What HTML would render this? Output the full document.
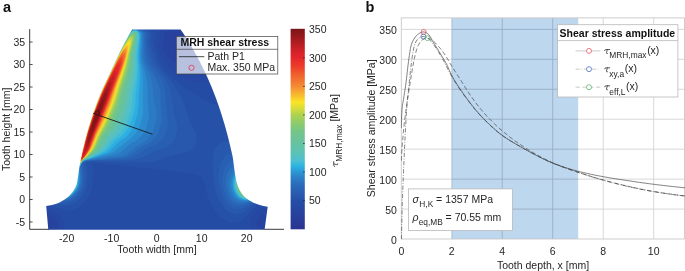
<!DOCTYPE html>
<html><head><meta charset="utf-8"><title>Figure</title>
<style>html,body{margin:0;padding:0;background:#fff}body{width:685px;height:271px;overflow:hidden;font-family:"Liberation Sans",sans-serif}svg{display:block;will-change:transform;transform:translateZ(0)}</style>
</head><body>
<svg width="685" height="271" viewBox="0 0 685 271" font-family="'Liberation Sans', sans-serif">
<rect width="685" height="271" fill="#fff"/>
<rect x="451.78" y="17.9" width="126.4" height="221.1" fill="#bdd7ee"/>
<path d="M451.78,17.9 V239.0" stroke="#d4d4d4" stroke-width="0.9"/>
<path d="M502.26,17.9 V239.0" stroke="#d4d4d4" stroke-width="0.9"/>
<path d="M552.74,17.9 V239.0" stroke="#d4d4d4" stroke-width="0.9"/>
<path d="M603.22,17.9 V239.0" stroke="#d4d4d4" stroke-width="0.9"/>
<path d="M653.7,17.9 V239.0" stroke="#d4d4d4" stroke-width="0.9"/>
<path d="M401.3,209.06 H684.5" stroke="#d4d4d4" stroke-width="0.9"/>
<path d="M401.3,179.11 H684.5" stroke="#d4d4d4" stroke-width="0.9"/>
<path d="M401.3,149.17 H684.5" stroke="#d4d4d4" stroke-width="0.9"/>
<path d="M401.3,119.22 H684.5" stroke="#d4d4d4" stroke-width="0.9"/>
<path d="M401.3,89.28 H684.5" stroke="#d4d4d4" stroke-width="0.9"/>
<path d="M401.3,59.33 H684.5" stroke="#d4d4d4" stroke-width="0.9"/>
<path d="M401.3,29.38 H684.5" stroke="#d4d4d4" stroke-width="0.9"/>
<clipPath id="band"><rect x="451.78" y="17.9" width="126.4" height="221.1"/></clipPath>
<g clip-path="url(#band)">
<path d="M451.78,17.9 V239.0" stroke="#8fb0d0" stroke-width="0.9"/>
<path d="M502.26,17.9 V239.0" stroke="#8fb0d0" stroke-width="0.9"/>
<path d="M552.74,17.9 V239.0" stroke="#8fb0d0" stroke-width="0.9"/>
<path d="M401.3,209.06 H684.5" stroke="#8fb0d0" stroke-width="0.9"/>
<path d="M401.3,179.11 H684.5" stroke="#8fb0d0" stroke-width="0.9"/>
<path d="M401.3,149.17 H684.5" stroke="#8fb0d0" stroke-width="0.9"/>
<path d="M401.3,119.22 H684.5" stroke="#8fb0d0" stroke-width="0.9"/>
<path d="M401.3,89.28 H684.5" stroke="#8fb0d0" stroke-width="0.9"/>
<path d="M401.3,59.33 H684.5" stroke="#8fb0d0" stroke-width="0.9"/>
<path d="M401.3,29.38 H684.5" stroke="#8fb0d0" stroke-width="0.9"/>
</g>
<rect x="401.3" y="17.9" width="283.2" height="221.1" fill="none" stroke="#c8c8c8" stroke-width="0.9"/>
<clipPath id="axb"><rect x="400.8" y="17.9" width="284.2" height="221.6"/></clipPath>
<g clip-path="url(#axb)" fill="none" stroke="#3a3a3a" stroke-width="0.65">
<path d="M401.3,128 L401.31,126.57 L401.32,125.14 L401.35,123.71 L401.39,122.28 L401.44,120.85 L401.49,119.42 L401.55,118 L401.62,116.57 L401.7,115.15 L401.78,113.73 L401.86,112.3 L401.94,110.88 L402.04,109.46 L402.16,108.05 L402.32,106.63 L402.51,105.22 L402.72,103.81 L402.95,102.39 L403.18,100.98 L403.42,99.57 L403.66,98.16 L403.89,96.75 L404.1,95.34 L404.32,93.93 L404.54,92.52 L404.77,91.11 L404.99,89.7 L405.21,88.29 L405.43,86.88 L405.63,85.47 L405.83,84.06 L406.01,82.64 L406.19,81.23 L406.36,79.81 L406.53,78.39 L406.69,76.97 L406.85,75.55 L407.01,74.14 L407.17,72.72 L407.33,71.3 L407.49,69.88 L407.65,68.46 L407.82,67.04 L407.99,65.63 L408.17,64.21 L408.35,62.8 L408.55,61.38 L408.74,59.97 L408.94,58.54 L409.12,57.11 L409.31,55.68 L409.51,54.24 L409.72,52.81 L409.94,51.39 L410.18,49.98 L410.44,48.58 L410.73,47.2 L411.05,45.85 L411.41,44.52 L411.87,43.18 L412.43,41.84 L413.09,40.52 L413.82,39.24 L414.6,38.02 L415.43,36.88 L416.31,35.83 L417.34,34.81 L418.49,33.88 L419.71,33.14 L421,32.56 L422.39,32.07 L423.77,31.91 L425.18,32.23 L426.54,32.89 L427.68,33.63 L428.62,34.49 L429.48,35.54 L430.26,36.74 L431,38.03 L431.71,39.38 L432.41,40.73 L433.13,42.03 L433.89,43.26 L434.66,44.46 L435.42,45.67 L436.18,46.87 L436.94,48.08 L437.7,49.29 L438.45,50.51 L439.2,51.72 L439.95,52.94 L440.69,54.16 L441.43,55.38 L442.17,56.59 L442.92,57.81 L443.67,59.03 L444.4,60.26 L445.12,61.49 L445.82,62.73 L446.49,63.99 L447.13,65.26 L447.74,66.55 L448.32,67.85 L448.89,69.17 L449.46,70.48 L450.03,71.79 L450.62,73.09 L451.23,74.38 L451.88,75.64 L452.56,76.9 L453.25,78.14 L453.97,79.37 L454.7,80.6 L455.45,81.82 L456.21,83.04 L456.97,84.24 L457.74,85.44 L458.52,86.64 L459.3,87.83 L460.1,89.01 L460.91,90.19 L461.72,91.36 L462.55,92.53 L463.38,93.69 L464.22,94.85 L465.06,96 L465.91,97.15 L466.76,98.29 L467.61,99.44 L468.46,100.59 L469.32,101.73 L470.18,102.88 L471.04,104.01 L471.92,105.15 L472.8,106.28 L473.68,107.4 L474.57,108.51 L475.48,109.62 L476.39,110.71 L477.31,111.8 L478.24,112.87 L479.19,113.93 L480.14,114.98 L481.11,116.03 L482.08,117.07 L483.07,118.1 L484.07,119.12 L485.07,120.14 L486.09,121.15 L487.11,122.15 L488.14,123.14 L489.17,124.13 L490.21,125.11 L491.26,126.09 L492.32,127.06 L493.37,128.01 L494.44,128.97 L495.5,129.91 L496.57,130.85 L497.66,131.78 L498.76,132.7 L499.87,133.59 L501,134.46 L502.15,135.3 L503.31,136.12 L504.48,136.92 L505.66,137.72 L506.85,138.51 L508.05,139.28 L509.26,140.05 L510.47,140.8 L511.69,141.55 L512.92,142.29 L514.15,143.02 L515.38,143.75 L516.62,144.47 L517.86,145.18 L519.1,145.89 L520.34,146.6 L521.59,147.3 L522.83,147.99 L524.07,148.69 L525.32,149.39 L526.57,150.08 L527.81,150.78 L529.07,151.47 L530.32,152.16 L531.57,152.85 L532.83,153.54 L534.1,154.22 L535.36,154.89 L536.63,155.56 L537.9,156.22 L539.17,156.88 L540.45,157.52 L541.73,158.16 L543.01,158.78 L544.3,159.39 L545.6,159.99 L546.89,160.58 L548.19,161.16 L549.5,161.72 L550.81,162.26 L552.12,162.79 L553.44,163.31 L554.77,163.82 L556.1,164.33 L557.43,164.82 L558.78,165.31 L560.12,165.79 L561.48,166.26 L562.83,166.73 L564.19,167.18 L565.55,167.63 L566.91,168.07 L568.28,168.49 L569.65,168.91 L571.02,169.32 L572.39,169.72 L573.77,170.11 L575.14,170.49 L576.51,170.86 L577.89,171.22 L579.27,171.57 L580.65,171.92 L582.03,172.25 L583.42,172.59 L584.81,172.91 L586.2,173.23 L587.6,173.54 L588.99,173.85 L590.39,174.15 L591.79,174.45 L593.19,174.74 L594.59,175.02 L595.99,175.3 L597.39,175.58 L598.8,175.85 L600.2,176.12 L601.6,176.39 L603,176.65 L604.4,176.9 L605.81,177.16 L607.21,177.4 L608.62,177.64 L610.02,177.88 L611.43,178.12 L612.84,178.35 L614.25,178.57 L615.66,178.8 L617.07,179.02 L618.48,179.24 L619.89,179.46 L621.3,179.67 L622.72,179.89 L624.13,180.1 L625.54,180.31 L626.95,180.53 L628.36,180.74 L629.77,180.95 L631.18,181.16 L632.6,181.37 L634.01,181.58 L635.42,181.79 L636.83,181.99 L638.24,182.2 L639.66,182.4 L641.07,182.6 L642.48,182.8 L643.9,183 L645.31,183.19 L646.72,183.38 L648.14,183.57 L649.55,183.76 L650.97,183.94 L652.38,184.12 L653.8,184.3 L655.22,184.48 L656.63,184.65 L658.05,184.83 L659.46,185 L660.88,185.17 L662.3,185.34 L663.71,185.5 L665.13,185.67 L666.55,185.84 L667.97,186 L669.39,186.16 L670.8,186.32 L672.22,186.47 L673.64,186.63 L675.06,186.78 L676.48,186.94 L677.9,187.08 L679.32,187.23 L680.74,187.38 L682.16,187.52 L683.58,187.66 L685,187.8"/>
<path d="M401.5,239 L401.53,237.23 L401.56,235.46 L401.59,233.68 L401.62,231.91 L401.65,230.14 L401.69,228.37 L401.73,226.59 L401.77,224.82 L401.8,223.05 L401.85,221.28 L401.89,219.5 L401.93,217.73 L401.98,215.96 L402.02,214.19 L402.07,212.42 L402.11,210.64 L402.16,208.87 L402.21,207.1 L402.26,205.33 L402.31,203.56 L402.37,201.79 L402.42,200.01 L402.48,198.24 L402.54,196.47 L402.6,194.7 L402.67,192.93 L402.73,191.16 L402.8,189.39 L402.87,187.61 L402.94,185.84 L403.01,184.07 L403.09,182.3 L403.16,180.53 L403.23,178.76 L403.31,176.99 L403.38,175.22 L403.46,173.45 L403.53,171.67 L403.6,169.9 L403.68,168.13 L403.75,166.36 L403.83,164.59 L403.9,162.82 L403.98,161.05 L404.06,159.28 L404.14,157.51 L404.21,155.74 L404.29,153.97 L404.37,152.19 L404.46,150.42 L404.54,148.65 L404.62,146.88 L404.7,145.11 L404.79,143.34 L404.87,141.57 L404.96,139.8 L405.05,138.03 L405.14,136.26 L405.23,134.49 L405.31,132.72 L405.4,130.95 L405.49,129.18 L405.58,127.41 L405.67,125.64 L405.76,123.87 L405.86,122.09 L405.96,120.32 L406.06,118.55 L406.16,116.79 L406.27,115.02 L406.38,113.25 L406.5,111.48 L406.62,109.71 L406.75,107.95 L406.89,106.18 L407.04,104.41 L407.2,102.65 L407.37,100.88 L407.54,99.12 L407.71,97.35 L407.89,95.59 L408.07,93.83 L408.26,92.06 L408.44,90.3 L408.63,88.54 L408.82,86.77 L409,85.01 L409.18,83.25 L409.36,81.48 L409.54,79.72 L409.72,77.95 L409.9,76.19 L410.09,74.43 L410.28,72.66 L410.47,70.9 L410.67,69.14 L410.87,67.38 L411.09,65.62 L411.31,63.86 L411.55,62.11 L411.79,60.35 L412.03,58.58 L412.27,56.8 L412.52,55.01 L412.79,53.22 L413.08,51.45 L413.41,49.7 L413.78,47.98 L414.2,46.3 L414.67,44.67 L415.32,42.96 L416.18,41.24 L417.2,39.69 L418.34,38.49 L419.72,37.63 L421.46,36.9 L423.25,36.51 L424.92,36.76 L426.58,37.58 L428.09,38.56 L429.42,39.62 L430.66,40.9 L431.83,42.3 L432.94,43.74 L434.02,45.14 L435.05,46.57 L436.05,48.02 L437.02,49.51 L437.97,51.02 L438.89,52.54 L439.8,54.08 L440.7,55.61 L441.58,57.15 L442.46,58.69 L443.3,60.24 L444.13,61.81 L444.94,63.38 L445.74,64.97 L446.54,66.55 L447.34,68.14 L448.13,69.73 L448.94,71.31 L449.76,72.88 L450.6,74.44 L451.46,75.99 L452.35,77.52 L453.25,79.04 L454.18,80.56 L455.11,82.06 L456.06,83.56 L457.02,85.05 L457.99,86.54 L458.97,88.01 L459.97,89.48 L460.98,90.94 L462,92.39 L463.03,93.83 L464.07,95.27 L465.12,96.69 L466.18,98.11 L467.25,99.53 L468.32,100.94 L469.4,102.36 L470.48,103.76 L471.58,105.16 L472.68,106.56 L473.79,107.94 L474.92,109.31 L476.06,110.67 L477.21,112.01 L478.38,113.33 L479.56,114.64 L480.76,115.94 L481.98,117.22 L483.21,118.5 L484.45,119.77 L485.71,121.03 L486.97,122.27 L488.25,123.51 L489.54,124.73 L490.84,125.94 L492.15,127.14 L493.47,128.33 L494.8,129.5 L496.13,130.66 L497.49,131.81 L498.86,132.93 L500.27,134.02 L501.69,135.06 L503.13,136.08 L504.59,137.07 L506.07,138.05 L507.56,139.01 L509.06,139.96 L510.57,140.89 L512.09,141.82 L513.61,142.73 L515.15,143.63 L516.69,144.52 L518.23,145.4 L519.77,146.28 L521.32,147.15 L522.86,148.01 L524.41,148.88 L525.96,149.74 L527.51,150.6 L529.06,151.46 L530.62,152.31 L532.18,153.16 L533.75,154 L535.32,154.84 L536.89,155.66 L538.47,156.48 L540.05,157.29 L541.64,158.08 L543.23,158.86 L544.83,159.63 L546.43,160.39 L548.04,161.12 L549.65,161.84 L551.27,162.54 L552.89,163.23 L554.53,163.9 L556.17,164.55 L557.82,165.19 L559.48,165.82 L561.14,166.43 L562.81,167.04 L564.48,167.64 L566.16,168.23 L567.84,168.81 L569.52,169.39 L571.2,169.97 L572.88,170.54 L574.56,171.11 L576.24,171.68 L577.92,172.25 L579.6,172.81 L581.28,173.37 L582.96,173.93 L584.64,174.49 L586.33,175.04 L588.02,175.59 L589.71,176.13 L591.4,176.66 L593.09,177.19 L594.78,177.72 L596.48,178.23 L598.18,178.74 L599.88,179.24 L601.58,179.72 L603.29,180.21 L604.99,180.68 L606.7,181.15 L608.41,181.62 L610.12,182.08 L611.84,182.53 L613.55,182.98 L615.27,183.42 L616.99,183.85 L618.71,184.28 L620.44,184.71 L622.16,185.12 L623.88,185.53 L625.61,185.93 L627.34,186.33 L629.06,186.72 L630.79,187.1 L632.53,187.48 L634.26,187.86 L635.99,188.23 L637.73,188.6 L639.46,188.96 L641.2,189.31 L642.94,189.66 L644.68,190 L646.42,190.33 L648.17,190.65 L649.91,190.97 L651.66,191.27 L653.4,191.57 L655.15,191.86 L656.9,192.14 L658.65,192.42 L660.4,192.7 L662.15,192.97 L663.9,193.24 L665.65,193.5 L667.4,193.76 L669.16,194.01 L670.92,194.26 L672.67,194.5 L674.43,194.73 L676.19,194.96 L677.95,195.18 L679.71,195.4 L681.47,195.61 L683.24,195.81 L685,196" stroke-dasharray="4.2 1.6 0.8 1.6"/>
<path d="M401.3,160.5 L401.37,159.01 L401.45,157.52 L401.54,156.03 L401.63,154.54 L401.72,153.05 L401.81,151.56 L401.91,150.08 L402.02,148.59 L402.13,147.1 L402.24,145.61 L402.35,144.13 L402.47,142.64 L402.59,141.15 L402.71,139.67 L402.84,138.18 L402.96,136.7 L403.09,135.21 L403.22,133.73 L403.36,132.25 L403.51,130.76 L403.66,129.28 L403.81,127.8 L403.97,126.31 L404.14,124.83 L404.31,123.35 L404.49,121.87 L404.67,120.39 L404.85,118.91 L405.04,117.43 L405.22,115.95 L405.41,114.47 L405.61,112.99 L405.8,111.51 L406,110.03 L406.19,108.56 L406.4,107.08 L406.6,105.6 L406.81,104.13 L407.03,102.65 L407.25,101.18 L407.47,99.7 L407.7,98.23 L407.92,96.75 L408.16,95.28 L408.39,93.81 L408.62,92.33 L408.86,90.86 L409.09,89.39 L409.33,87.92 L409.57,86.45 L409.8,84.97 L410.04,83.5 L410.27,82.03 L410.51,80.55 L410.74,79.08 L410.97,77.6 L411.2,76.13 L411.44,74.66 L411.68,73.18 L411.92,71.71 L412.17,70.24 L412.42,68.77 L412.68,67.3 L412.95,65.84 L413.23,64.37 L413.51,62.91 L413.81,61.45 L414.11,59.99 L414.41,58.52 L414.72,57.05 L415.04,55.57 L415.38,54.1 L415.74,52.65 L416.13,51.21 L416.55,49.79 L417.01,48.4 L417.52,47.03 L418.13,45.64 L418.82,44.27 L419.61,42.95 L420.47,41.74 L421.42,40.68 L422.56,39.64 L423.86,38.82 L425.24,38.44 L426.75,38.23 L428.21,38.28 L429.65,38.8 L430.98,39.49 L432.21,40.23 L433.38,41.11 L434.51,42.1 L435.6,43.17 L436.65,44.3 L437.67,45.43 L438.67,46.56 L439.65,47.67 L440.59,48.81 L441.51,49.99 L442.41,51.19 L443.28,52.41 L444.14,53.64 L444.98,54.87 L445.8,56.11 L446.59,57.37 L447.36,58.64 L448.12,59.93 L448.87,61.22 L449.62,62.51 L450.37,63.8 L451.14,65.08 L451.92,66.35 L452.71,67.62 L453.5,68.88 L454.3,70.14 L455.1,71.4 L455.91,72.65 L456.71,73.91 L457.52,75.16 L458.32,76.42 L459.13,77.67 L459.93,78.93 L460.72,80.19 L461.51,81.46 L462.3,82.73 L463.09,84 L463.88,85.26 L464.67,86.53 L465.46,87.8 L466.25,89.06 L467.06,90.32 L467.87,91.57 L468.68,92.81 L469.51,94.05 L470.35,95.28 L471.21,96.49 L472.07,97.71 L472.94,98.92 L473.82,100.12 L474.71,101.33 L475.6,102.53 L476.5,103.72 L477.41,104.91 L478.33,106.09 L479.26,107.26 L480.2,108.42 L481.14,109.58 L482.1,110.73 L483.06,111.86 L484.03,112.98 L485.02,114.09 L486.01,115.19 L487.02,116.29 L488.03,117.37 L489.06,118.45 L490.11,119.52 L491.16,120.58 L492.22,121.64 L493.29,122.69 L494.37,123.72 L495.46,124.75 L496.56,125.77 L497.66,126.78 L498.77,127.78 L499.88,128.77 L501,129.74 L502.13,130.71 L503.26,131.67 L504.4,132.62 L505.55,133.57 L506.71,134.51 L507.88,135.45 L509.05,136.37 L510.23,137.29 L511.42,138.21 L512.61,139.11 L513.82,140 L515.02,140.89 L516.24,141.76 L517.46,142.62 L518.68,143.48 L519.91,144.32 L521.14,145.15 L522.38,145.97 L523.63,146.77 L524.88,147.58 L526.13,148.37 L527.39,149.16 L528.66,149.95 L529.94,150.73 L531.22,151.5 L532.5,152.27 L533.79,153.03 L535.09,153.78 L536.39,154.52 L537.7,155.25 L539.01,155.98 L540.32,156.69 L541.64,157.4 L542.97,158.09 L544.3,158.78 L545.63,159.45 L546.96,160.11 L548.3,160.76 L549.65,161.39 L550.99,162.01 L552.34,162.62 L553.7,163.22 L555.06,163.8 L556.43,164.38 L557.81,164.94 L559.2,165.5 L560.59,166.04 L561.98,166.58 L563.38,167.11 L564.78,167.63 L566.18,168.15 L567.59,168.66 L569,169.16 L570.41,169.66 L571.82,170.15 L573.23,170.64 L574.64,171.13 L576.05,171.61 L577.46,172.09 L578.87,172.57 L580.29,173.04 L581.7,173.51 L583.12,173.97 L584.54,174.42 L585.96,174.88 L587.39,175.32 L588.81,175.77 L590.24,176.2 L591.66,176.64 L593.09,177.07 L594.52,177.49 L595.95,177.91 L597.39,178.33 L598.82,178.74 L600.25,179.15 L601.69,179.56 L603.12,179.96 L604.56,180.35 L606,180.75 L607.44,181.14 L608.88,181.53 L610.32,181.91 L611.76,182.29 L613.2,182.67 L614.65,183.04 L616.09,183.41 L617.54,183.77 L618.99,184.14 L620.44,184.49 L621.89,184.84 L623.34,185.19 L624.79,185.53 L626.24,185.87 L627.69,186.21 L629.14,186.54 L630.6,186.86 L632.05,187.19 L633.51,187.52 L634.97,187.84 L636.42,188.15 L637.88,188.47 L639.34,188.78 L640.8,189.09 L642.26,189.39 L643.73,189.68 L645.19,189.97 L646.65,190.26 L648.12,190.53 L649.58,190.8 L651.05,191.06 L652.52,191.32 L653.99,191.57 L655.46,191.81 L656.93,192.05 L658.4,192.29 L659.87,192.52 L661.34,192.76 L662.81,192.98 L664.29,193.21 L665.76,193.43 L667.24,193.65 L668.71,193.86 L670.19,194.07 L671.67,194.27 L673.14,194.48 L674.62,194.67 L676.1,194.86 L677.58,195.05 L679.07,195.23 L680.55,195.41 L682.03,195.58 L683.52,195.74 L685,195.9" stroke-dasharray="4.4 2.4"/>
</g>
<circle cx="423.7" cy="32.0" r="2.5" fill="none" stroke="#e8424e" stroke-width="0.7"/>
<circle cx="423.4" cy="36.6" r="2.5" fill="none" stroke="#3b5fc0" stroke-width="0.7"/>
<circle cx="427.4" cy="38.1" r="2.5" fill="none" stroke="#4cae5a" stroke-width="0.7"/>
<text x="396.9" y="243.9" text-anchor="end" font-size="10.5" font-weight="normal" fill="#262626" >0</text>
<text x="396.9" y="213.96" text-anchor="end" font-size="10.5" font-weight="normal" fill="#262626" >50</text>
<text x="396.9" y="184.01" text-anchor="end" font-size="10.5" font-weight="normal" fill="#262626" >100</text>
<text x="396.9" y="154.07" text-anchor="end" font-size="10.5" font-weight="normal" fill="#262626" >150</text>
<text x="396.9" y="124.12" text-anchor="end" font-size="10.5" font-weight="normal" fill="#262626" >200</text>
<text x="396.9" y="94.18" text-anchor="end" font-size="10.5" font-weight="normal" fill="#262626" >250</text>
<text x="396.9" y="64.23" text-anchor="end" font-size="10.5" font-weight="normal" fill="#262626" >300</text>
<text x="396.9" y="34.28" text-anchor="end" font-size="10.5" font-weight="normal" fill="#262626" >350</text>
<text x="401.3" y="254.5" text-anchor="middle" font-size="10.5" font-weight="normal" fill="#262626" >0</text>
<text x="451.78" y="254.5" text-anchor="middle" font-size="10.5" font-weight="normal" fill="#262626" >2</text>
<text x="502.26" y="254.5" text-anchor="middle" font-size="10.5" font-weight="normal" fill="#262626" >4</text>
<text x="552.74" y="254.5" text-anchor="middle" font-size="10.5" font-weight="normal" fill="#262626" >6</text>
<text x="603.22" y="254.5" text-anchor="middle" font-size="10.5" font-weight="normal" fill="#262626" >8</text>
<text x="653.7" y="254.5" text-anchor="middle" font-size="10.5" font-weight="normal" fill="#262626" >10</text>
<text x="543" y="268.6" text-anchor="middle" font-size="10.5" font-weight="normal" fill="#262626" >Tooth depth, x [mm]</text>
<text x="0" y="0" text-anchor="middle" font-size="10.5" font-weight="normal" fill="#262626" transform="translate(375.3,128.3) rotate(-90)">Shear stress amplitude [MPa]</text>
<text x="365.4" y="12.1" text-anchor="start" font-size="14.5" font-weight="bold" fill="#111" >b</text>
<rect x="557.5" y="24.7" width="120.4" height="72.3" fill="#fff" stroke="#b8b8b8" stroke-width="0.8"/>
<path d="M557.5,40.6 H677.9" stroke="#b8b8b8" stroke-width="0.8"/>
<text x="559.6" y="37.2" text-anchor="start" font-size="10.5" font-weight="bold" fill="#111" >Shear stress amplitude</text>
<path d="M575.6,50.9 H600.3" stroke="#8a8a8a" stroke-width="0.45"/>
<circle cx="589" cy="50.9" r="2.5" fill="#fff" stroke="#e8424e" stroke-width="0.7"/>
<g transform="translate(604.6,53.7)"><path d="M0,-3.2 Q0.3,-4.15 1.3,-4.15 H5.1 M2.75,-4.15 L1.85,-1.0 Q1.6,0.1 2.8,-0.15" fill="none" stroke="#303030" stroke-width="0.8" stroke-linecap="round" stroke-linejoin="round"/></g>
<text x="609.3" y="54.2" font-size="10.5" fill="#262626"><tspan font-size="8.4" dy="4.2">MRH,max</tspan><tspan dy="-4.6" dx="0.6">(x)</tspan></text>
<path d="M575.6,69.2 H600.3" stroke="#8a8a8a" stroke-width="0.45" stroke-dasharray="4.2 1.6 0.8 1.6"/>
<circle cx="589" cy="69.2" r="2.5" fill="#fff" stroke="#3b5fc0" stroke-width="0.7"/>
<g transform="translate(604.6,72)"><path d="M0,-3.2 Q0.3,-4.15 1.3,-4.15 H5.1 M2.75,-4.15 L1.85,-1.0 Q1.6,0.1 2.8,-0.15" fill="none" stroke="#303030" stroke-width="0.8" stroke-linecap="round" stroke-linejoin="round"/></g>
<text x="609.3" y="72.5" font-size="10.5" fill="#262626"><tspan font-size="8.4" dy="4.2">xy,a</tspan><tspan dy="-4.6" dx="0.6">(x)</tspan></text>
<path d="M575.6,87.2 H600.3" stroke="#8a8a8a" stroke-width="0.45" stroke-dasharray="4.4 2.4"/>
<circle cx="589" cy="87.2" r="2.5" fill="#fff" stroke="#4cae5a" stroke-width="0.7"/>
<g transform="translate(604.6,90)"><path d="M0,-3.2 Q0.3,-4.15 1.3,-4.15 H5.1 M2.75,-4.15 L1.85,-1.0 Q1.6,0.1 2.8,-0.15" fill="none" stroke="#303030" stroke-width="0.8" stroke-linecap="round" stroke-linejoin="round"/></g>
<text x="609.3" y="90.5" font-size="10.5" fill="#262626"><tspan font-size="8.4" dy="4.2">eff,L</tspan><tspan dy="-4.6" dx="0.6">(x)</tspan></text>
<rect x="408.4" y="188.9" width="104.1" height="41.6" fill="#fff" stroke="#b8b8b8" stroke-width="0.8"/>
<text x="412.4" y="202.8" font-size="10.5" fill="#262626"><tspan font-style="italic">σ</tspan><tspan font-size="8.3" dy="4.0" dx="0.6">H,K</tspan><tspan dy="-4.0"> = 1357 MPa</tspan></text>
<text x="412.4" y="220.5" font-size="10.5" fill="#262626"><tspan font-style="italic">ρ</tspan><tspan font-size="8.3" dy="4.0" dx="0.3">eq,MB</tspan><tspan dy="-4.0"> = 70.55 mm</tspan></text>
<g>
<rect x="43.0" y="27.0" width="228.0" height="204.0" fill="#283d99"/>
<path d="M43,27 271,27 271,231 43,231ZM192.5,34.9 191,35.42 190.5,35.74 190.16,36 189.82,36.5 189.72,37 190,37.86 190.53,38.5 191.5,39.12 192.5,39.48 194.5,39.64 195.5,39.5 197,39.01 198.65,38 199.5,37.04 199.73,36.5 199.76,36 199.53,35.5 198.82,35 198,34.76 195.5,34.53Z" fill="#27419c" stroke="#27419c" stroke-width="0.3" fill-rule="evenodd"/>
<path d="M43,27 271,27 271,231 43,231ZM46.5,219.36 45.5,219.8 44.56,220.5 44,221.13 43.5,221.97 43.07,223.5 43.07,224.5 43.27,225.5 43.71,226.5 44.47,227.5 45.89,228.5 47.5,228.95 48.5,228.95 49.5,228.74 50.5,228.29 51.5,227.53 52.5,226.09 52.92,224.5 52.91,223.5 52.68,222.5 52.21,221.5 51.5,220.6 50,219.58 49,219.25 48,219.14ZM186,30.98 178.56,31.5 175.47,32 173.73,32.5 172.65,33 171.48,34 171.17,34.5 170.83,35.5 170.68,37.5 171.08,41.5 171.95,45.5 173.08,48.5 174.5,50.78 175.5,51.91 176.74,53 179.5,54.77 182.5,55.99 186,56.77 188.5,56.97 191,56.92 193.5,56.61 196,56.07 198.5,55.3 201,54.28 203.47,53 205.5,51.73 207.5,50.26 209.51,48.5 211.45,46.5 213.08,44.5 214.78,42 216,39.79 216.98,37.5 217.53,35.5 217.61,34.5 217.43,33.5 217.15,33 216.64,32.5 215.5,31.93 213,31.35 209.5,30.98 202.5,30.75 194.5,30.75Z" fill="#26449f" stroke="#26449f" stroke-width="0.3" fill-rule="evenodd"/>
<path d="M43,27 271,27 271,219.54 270.5,218.44 269.5,217.05 268.5,216.13 267.52,215.5 266.5,215.05 265.5,214.8 264,214.73 263,214.86 262,215.16 260.5,215.95 259.5,216.72 258.5,217.82 257.35,220 256.98,221.5 256.93,223 257.22,224.5 257.61,225.5 258.2,226.5 259,227.43 260,228.24 261,228.8 262,229.17 263.5,229.44 264.5,229.45 266,229.19 267,228.83 268,228.3 269.04,227.5 269.94,226.5 270.58,225.5 271,224.54 271,231 55.31,231 56.49,229.5 57.29,228 57.8,226.5 58.09,224.5 57.96,222.5 57.57,221 56.9,219.5 56,218.17 54.91,217 53.5,215.91 52,215.1 50,214.43 48,214.18 46.5,214.24 44.5,214.73 43,215.4ZM171,30 168,30.34 166.5,30.69 165.76,31 165.09,31.5 164.46,32.5 164.11,34 163.68,38.5 163.31,41 162.03,46.5 162.12,47 163.14,49.5 164.87,52.5 168.41,57 172.5,60.93 174.69,62.5 175.22,63 178.5,65.04 183,67.03 187,68.24 190.5,68.79 193.5,68.87 197,68.57 199,68.23 202.5,67.09 206,65.61 209.5,63.74 212.92,61.5 216,59.07 218.73,56.5 221.41,53.5 223.67,50.5 225.56,47.5 227.38,44 228.83,40.5 229.89,37 230.31,34.5 230.29,33.5 229.98,32.5 229.61,32 228.95,31.5 227.75,31 225.48,30.5 220.53,30 211,29.67 198.5,29.57 181,29.69Z" fill="#2648a2" stroke="#2648a2" stroke-width="0.3" fill-rule="evenodd"/>
<path d="M43,27 152.89,27 153.07,29 155.5,29.23 157,29.66 157.54,30 158.5,30.94 159.41,32.5 159.7,33.5 159.89,35 159.8,37.5 159.07,41 157.94,44 158.02,45.5 158.21,46 158.27,47 158.75,48.5 158.86,49.5 160.25,53.5 161.62,56.5 164,60.44 164.92,61.5 165.14,62 166.08,63 167,64.39 168.59,66 168.88,66.5 170,67.56 170.28,68 172.03,69.5 172.38,70 174.3,71.5 174.69,72 177.52,74 178,74.51 182.5,77.19 186.5,79.17 190,80.49 192.5,81.29 197,82.27 199,82.5 201,82.51 204,82.37 207.5,81.84 211.5,80.79 214,79.87 217,78.5 220,76.67 223.5,74.21 227,71.36 230,68.55 232.85,65.5 235.3,62.5 237.8,59 239.95,55.5 241.8,52 243.58,48 245.04,44 246.42,39 247.06,35 247.08,34 246.93,33 246.4,32 245.82,31.5 244.8,31 243.03,30.5 239.84,30 233.81,29.5 218.93,29 219.11,27 271,27 271,208.8 269.5,208.12 267.5,207.5 265,207.36 263.5,207.58 261,208.44 259,209.62 257.5,210.73 255.5,212.64 253.95,214.5 252.61,216.5 250.98,220 250.3,222.5 250.13,225 250.51,227.5 251.04,229 252.14,231 62.19,231 63.01,229 63.53,227 63.77,225 63.68,222.5 63.26,220.5 62.7,219 61.56,217 60.32,215.5 58.03,213.5 56,212.15 54,211.09 51,209.97 49,209.48 46.5,209.2 43,209.72Z" fill="#254ca5" stroke="#254ca5" stroke-width="0.3" fill-rule="evenodd"/>
<path d="M43,27 122.69,27 122.79,29 132,29.26 133,29.08 137.5,29.1 145.55,29.5 148,29.82 150,30.3 151.5,30.88 152.48,31.5 153.8,33 154.3,34 154.59,35 154.71,36 154.66,37.5 154.25,39.5 153.5,41.5 153.6,42.5 153.99,44 154.72,45.5 154.83,46 155.15,46.5 155.34,47.5 155.62,48 156.3,51 157.07,53.5 157.46,55.5 157.71,56 158.13,57.5 158.82,59 158.93,59.5 159.26,60 159.38,60.5 160.08,61.5 160.74,63 161.51,64 161.66,64.5 164.06,68 164.25,68.5 165.63,70 165.86,70.5 166.87,71.5 167.65,72.5 169.29,74 169.5,74.39 170.13,75 172.5,77.05 172.77,77.5 175.22,79.5 175.5,79.95 180.72,84 181,84.4 182,84.95 182.5,85.55 187.5,89.22 188.78,90 189,90.28 189.5,90.5 189.91,91 195,94.36 201,98.04 201.5,98.21 201.8,98.5 203.5,99.45 204,99.58 204.5,100.03 205.5,100.38 206,100.76 206.65,101 207,101.33 207.5,101.46 212.5,103.97 213,104.04 213.5,104.43 214.01,104.5 214.5,104.87 215,104.96 218.5,106.51 219,106.57 219.5,106.92 220,106.98 225.5,109.5 226,109.6 226.5,110 227.81,110.5 231.95,113 234.64,115 234.99,115.5 235.56,116 238.81,118 239,118.22 239.61,118.5 240,118.96 241,119.39 241.5,119.92 242,120.11 242.31,120.5 245.11,122.5 247.57,124.5 247.91,125 250.5,127.33 254.5,131.89 256.5,134.37 259.09,138 261.07,141 264.04,146 264.5,146.57 265.94,149.5 268.72,156 271,159.99 271,178.73 267.5,180.17 266.43,181 264.92,183 264.89,183.5 264.43,184.5 264.45,185 264.04,186 264.04,186.5 263.51,188 262.96,189 262.9,189.5 261.94,191 261.93,191.5 261.12,194.5 260.05,197 260.02,197.5 259.05,200 259,200.5 258.56,201.5 258.52,202 257.8,204.5 255,207.04 254.5,207.33 253,209.02 252.3,209.5 251.5,210.59 250.93,211 250.61,211.5 249.94,212 249.63,212.5 248.98,213 248.5,213.79 248,214.05 247.5,214.88 247,215.14 246.78,215.5 246.13,216 245.82,216.5 245.16,217 244.84,217.5 244.16,218 243.82,218.5 242.35,219.5 241.97,220 241,220.65 240.22,221 239.5,221.6 239,221.66 238.5,222.03 237.96,222 237,222.54 236.5,222.46 235,222.78 233.5,222.76 232,222.44 231,222.38 227,221.02 225.5,220.23 222.78,218.5 220.85,217 218.5,214.84 216.38,212.5 215,210.73 213.21,208 211.79,205.5 210.07,202 208.62,198.5 206.85,193 205.5,186.5 204.54,183.5 203.97,181 202.23,178.5 201,177.18 199.5,176.06 198,175.32 195.5,174.42 195,174.38 194.5,174.12 191.5,173.59 190.5,173.3 189,173.05 188.5,173.09 188,172.89 187.5,172.93 187,172.72 186.5,172.77 186,172.57 185.5,172.61 185,172.44 184,172.5 182.5,172.16 182,172.21 181.5,172.01 181,172.06 180.5,171.87 180,171.92 179.5,171.72 178.5,171.82 178,171.62 177.5,171.67 177,171.47 176.5,171.52 176,171.33 175.5,171.38 175,171.18 174,171.28 173.5,171.08 173,171.13 172.5,170.94 172,170.98 171.5,170.79 171,170.84 170.5,170.64 169.5,170.74 169,170.54 168.5,170.59 168,170.4 167.5,170.44 167,170.25 166,170.35 165.5,170.15 165,170.2 164.5,170 164,170.05 163.5,169.86 162.5,169.95 162,169.76 161.5,169.81 161,169.61 160.5,169.66 160,169.46 159,169.56 158.5,169.36 158,169.41 157.5,169.21 155.5,169.15 155,168.95 154,169.04 153.5,168.84 153,168.89 152.5,168.68 152,168.73 151.5,168.55 150.5,168.61 150,168.41 149,168.48 148.5,168.29 148,168.33 147.5,168.13 146.5,168.21 146,168 145.5,168.04 145,167.84 143,167.76 142.5,167.59 141.5,167.63 141,167.43 140.5,167.47 140,167.27 139,167.35 138.5,167.14 138,167.18 137.5,166.97 136.5,167.06 136,166.86 134,166.78 133.5,166.57 132.5,166.66 132,166.45 131.5,166.49 131,166.3 130,166.39 129.5,166.19 129,166.23 128.5,166.04 127.5,166.12 127,165.92 126,166 125.5,165.82 123.5,165.76 123,165.6 122,165.65 121.5,165.45 120.5,165.53 120,165.35 118.5,165.43 118,165.28 116,165.18 115.5,164.96 114,165.06 113,164.74 111.5,164.73 111,164.48 110,164.53 109.5,164.34 108,164.27 107,163.94 105.5,163.98 104.5,163.59 103,163.65 102.5,163.42 100.5,163.33 100,163.15 99,163.19 98.5,162.97 97,163.18 96.5,162.98 95.5,163.19 95,163.07 94.5,163.34 93.67,163.5 93,164.27 92.8,166 93.26,173 93.16,178.5 92.58,184.5 92.12,187 91.49,189.5 90.82,191.5 89.73,194 87.5,197.85 84.76,201.5 83.42,203 81,205.28 78.5,207.19 75.28,209 74,209.54 71,210.31 69,210.45 68,210.43 65,210.02 60.96,209 51,205.33 50.72,205 51.02,204.5 51.02,204 51.54,202.5 51.54,202 51.83,201.5 52.29,199.5 52.81,198 54,195.94 54.84,193 55.5,191.48 58.47,186.5 59.88,183 61.5,179.77 63.92,171 66.4,163.5 65,163.47 64.5,162.96 62,162.93 61.5,162.44 59,162.42 58.5,161.93 56,161.91 55.5,161.43 53,161.41 52.5,160.92 50,160.91 49.5,160.42 47,160.41 46.5,159.92 44,159.91 43.5,159.42 43,159.41ZM249.31,27 271,27 271,29.57 249.21,29Z" fill="#2651a9" stroke="#2651a9" stroke-width="0.3" fill-rule="evenodd"/>
<path d="M43,29.5 43,29.21 97.5,29.38 116.5,29.64 131.5,30.19 132.5,29.52 133,29.33 136,29.26 141,29.57 144.33,30 146.66,30.5 147.89,31 148.7,31.5 149.31,32 150.13,33 150.72,34.5 150.82,35.5 150.7,37 150.28,38.5 149.85,39.5 149.98,41 150.19,41.5 150.56,43.5 151.09,45 151.2,46 151.75,47.5 151.84,48.5 152.39,50 152.45,50.5 152.73,51 152.89,52 153.64,53.5 153.75,54 154.34,55 154.97,57 155.24,57.5 155.31,58 155.76,59 156.01,60 156.57,61 156.65,61.5 157.35,63 157.46,63.5 158.13,64.5 158.74,66 159.51,67 159.67,67.5 160.51,68.5 160.69,69 162.06,70.5 162.25,71 163.2,72 163.4,72.5 166.55,76 166.76,76.5 168.24,78 168.45,78.5 169.92,80 170.61,81 171.57,82 171.78,82.5 173.2,84 173.4,84.5 174.77,86 174.96,86.5 175.81,87.5 175.99,88 178.83,92.5 178.99,93 179.88,94.5 182.46,100 183.47,102.5 185.82,109 186.44,111.5 186.71,112 186.79,112.5 188.04,116 188.18,117 188.43,117.5 188.5,118 189.59,120.5 190,122 191.26,124.5 191.89,125.5 191.96,126 193.47,129 193.89,129.5 194.95,132 195.31,132.5 196.09,134.5 196.47,137.5 195.93,143 195.25,146 194.5,147.33 193,148.74 190.5,150.34 189.5,150.72 188,151.61 187,151.93 186.5,152.28 184.5,153.21 183.5,153.34 183,153.59 181.5,153.86 181,154.08 180.5,154.07 180,154.28 179,154.25 178.5,154.45 178,154.43 177.5,154.62 177,154.6 176.5,154.8 175,154.95 174.5,155.15 172.5,155.32 171,155.76 170.5,155.78 169,156.3 168.5,156.35 166.5,157.21 166,157.28 164.5,157.92 164,157.99 163,158.56 162.5,158.64 161,159.26 160.5,159.31 158.5,160.12 158,160.14 157,160.6 155.5,160.8 155,161.01 154.5,160.98 153.5,161.37 153,161.33 152.5,161.51 152,161.46 150,161.91 149.5,161.83 148.5,162.11 147,162.06 146,162.26 145.5,162.14 145,162.25 143.5,162.19 142.5,162.31 142,162.17 139.5,162.33 138,162.22 136,162.34 135.5,162.19 132,162.34 131.5,162.19 126.5,162.35 126,162.2 125.5,162.29 119.5,162.28 118.5,162.18 118,162.25 117.5,162.13 116.5,162.21 116,162.04 115,162.16 114.5,161.97 113.5,162.1 113,161.92 112,162.04 111.5,161.87 110.5,161.96 110,161.81 106.5,161.77 106,161.64 105,161.71 104.5,161.53 103.5,161.65 103,161.46 102,161.58 101.5,161.39 100,161.55 99,161.33 98.5,161.43 98,161.3 96.5,161.38 95,161.25 94.5,161.36 93.5,161.14 93,161.28 91.5,161.28 91,161.44 90,161.45 89.5,161.63 89,161.52 88.5,161.84 87.58,162 86.64,162.5 86.29,163 86.11,164 87.19,171.5 87.46,175 87.37,180.5 86.86,185 86.18,188 85.27,190.5 83.73,193.5 82,196.03 79.5,198.9 77.5,200.72 76,201.81 74.95,202.5 73.01,203.5 70.24,204.5 68.5,204.87 66,205.19 63,205.19 62.5,205.05 60,204.98 57.5,204.56 55.56,204 56.91,202 58.56,199 59.18,197.5 62.5,191.03 64.13,187 66.54,182 68.52,175.5 69.89,171.5 71.87,166.5 72.84,164.5 70.5,164.31 70,163.81 67.5,163.69 67,163.22 65,163.14 64.5,162.69 62,162.62 61.5,162.17 59,162.11 58.5,161.66 58,161.61 56,161.6 55.5,161.16 53,161.1 52.5,160.66 50,160.6 49.5,160.16 47,160.1 46.5,159.66 44,159.6 43.5,159.16 43,159.1ZM227.28,141 227.5,140.91 228.5,141.01 229,140.84 230,141 230.5,140.84 231.5,141.06 232,140.96 233,141.23 234,141.34 237.5,142.69 237.85,143 238.5,143.22 239,143.6 240.02,144 240.5,144.5 241,144.71 242.68,146 243,146.41 243.5,146.71 248,151.05 249.07,152.5 251.5,156.78 254.82,163.5 256.38,167.5 259.3,176 260.99,179.5 259.44,181.5 259.22,182 258.85,183 258.01,186.5 257.77,187 257.5,188.84 257.17,189.5 255.3,198 255.27,199 255.06,200 255.15,200.5 254.97,201.5 255.18,203 255,203.48 252.96,205 252,205.42 250.89,206.5 249.92,207 249.54,207.5 249,207.8 248.5,208.38 247.5,208.94 247.03,209.5 246.12,210 245.74,210.5 244.78,211 244.35,211.5 242.09,212.5 241.47,213 241,213.17 240.5,213.14 240,213.45 239.5,213.37 238.5,213.72 236.5,213.91 235.5,213.66 234,213.64 233.5,213.41 232,213.08 229,211.67 227,210.29 225.42,209 223.45,207 221.86,205 220.6,203 219.25,200.5 217.65,197 216.7,194.5 215.63,191 214.46,185.5 213.11,176 212.96,173 213.01,167.5 212.69,164 212.69,162 212.84,161 213.18,160.5 213.34,159.5 213.1,157 213.05,154.5 213.23,154 213.2,153.5 213.46,153 213.55,152 213.94,151.5 214.16,150.5 214.58,150 214.96,149 216.48,146.5 217,145.85 217.5,145.57 219.5,143.71 220,143.6 221.5,142.63 224,141.68 225,141.55 226,141.15Z" fill="#2758ad" stroke="#2758ad" stroke-width="0.3" fill-rule="evenodd"/>
<path d="M133.35,29.5 135,29.42 137.5,29.52 142.5,30.21 145.18,31 146.24,31.5 146.92,32 147.68,33 148.03,34 148.13,35.5 147.85,37 147.46,38 147.48,39.5 147.66,40 147.66,41 147.83,41.5 147.84,42.5 148.01,43 148.03,44 148.2,44.5 148.42,46.5 148.61,47 148.9,49 149.12,49.5 149.48,51.5 149.72,52 149.77,52.5 150.58,55 150.96,57 151.45,58 151.7,59 152.23,60 152.34,60.5 152.7,61 152.83,61.5 153.22,62 153.37,62.5 154.18,63.5 154.34,64 155.18,65 155.34,65.5 156.19,66.5 156.36,67 157.23,68 157.4,68.5 158.29,69.5 158.46,70 159.35,71 159.5,71.44 160.41,72.5 161.03,73.5 162.94,76 165.91,80.5 166.12,81 167.2,82.5 167.33,83 167.99,84 168.99,87 169.55,88 171.57,95.5 172,99 172.19,99.5 172.47,102 172.64,102.5 173.04,107 173.49,109.5 173.5,110.5 173.83,112.5 174.17,113.5 174.6,116 175.44,118.5 175.47,119 176.55,122.5 177.2,126.5 177.26,128 176.96,130.5 175.66,136.5 174.76,139.5 173.5,141.38 172,142.95 169.43,145 166,147.35 161.5,149.1 161,149.13 159.5,149.64 159,149.67 158.5,149.91 157,150.22 156.5,150.47 156,150.52 155,151.05 153.5,151.51 152.5,152.13 152,152.25 151,152.91 150.5,153.09 149.5,153.75 149,153.9 147.5,154.91 146,155.59 144.5,156.51 144,156.59 143,157.16 142.5,157.21 141.5,157.73 141,157.76 140,158.24 139.5,158.25 138.5,158.69 138,158.67 137,159.07 135,159.27 134,159.56 132.5,159.51 131.5,159.76 129.5,159.78 128.5,160.01 128,159.89 127,160.12 125.5,159.98 124.5,160.2 124,160.13 123,160.29 122,160.27 121,160.47 119.5,160.33 118.5,160.52 118,160.39 117,160.58 116.5,160.44 115.5,160.62 115,160.47 114,160.64 113.5,160.48 112.5,160.65 112,160.48 111,160.64 110.5,160.47 109.5,160.63 109,160.46 108,160.62 107.5,160.45 106.5,160.61 106,160.44 104.5,160.69 104,160.52 103,160.69 102.5,160.51 101.5,160.69 101,160.52 100,160.69 99.5,160.53 98.5,160.69 98,160.52 97.5,160.68 96.5,160.75 96,160.62 95.5,160.76 94.5,160.54 94,160.69 93,160.77 92.5,160.64 92,160.79 91,160.63 90.5,160.81 89,160.92 88.5,161.12 88,161 87.5,161.32 85.5,161.78 85,162.14 84.5,162.29 83.47,163.5 83.31,164.5 83.51,166.5 84.31,171.5 84.64,175 84.65,180 84.41,183 83.9,186 83.34,188 82.3,190.5 81.17,192.5 79,195.43 77.5,197.03 76,198.35 74.44,199.5 72.5,200.65 70.5,201.45 67.5,202.35 64.5,202.79 61.5,202.99 61,202.9 59.5,202.98 58.92,202.5 60.92,199.5 63,195.94 63.5,194.78 64.5,193.04 66.62,188 69.05,183 71.27,176 72.73,172 74.35,168 75.78,165 73.5,164.6 73,164.12 72,163.94 69.5,163.16 69,163.12 68,162.62 66.5,162.5 66,162.25 65.5,162.24 65,161.97 63.5,161.89 62.5,161.44 60.5,161.34 59.5,160.92 57.5,160.83 56.5,160.42 55,160.32 54,159.91 52,159.82 50.5,159.32 49,159.32 47.5,158.82 46,158.82 45.5,158.67 45,158.32 43.5,158.32 43,158.17 43,29.58 75.5,29.73 104,30.08 119,30.53 130.5,31.3 131,31.27 131.09,31 132.5,29.75ZM231.75,152 232.5,151.88 233,152 233.5,151.85 234.5,152.07 235,151.97 235.5,152.21 238.27,153 240.11,154 241,154.98 241.5,155.21 242.47,156.5 243,156.88 243.5,157.65 244,158.08 244.5,158.94 245,159.45 247.79,163.5 249.7,167 251.51,171 254.63,178.5 256.64,182 256.79,182.5 256.83,183 256.67,183.5 255.8,185.5 254.75,189 254.64,190 254.38,190.5 254.16,192 253.88,192.5 253.7,194 253.34,195.5 253.43,196 253.02,197.5 253.15,198.5 252.97,199.5 253.14,200 253.12,201 253.38,202 253.3,202.5 253,202.86 251.5,203.6 250.98,204 249.5,204.49 249,204.94 248.5,205.13 248,205.6 246.99,206 246.48,206.5 245.28,207 244.77,207.5 244.5,207.61 244,207.54 243.5,208 241,208.86 239.5,209.25 239,209.19 238.5,209.38 238,209.27 236.5,209.35 235.5,209.22 235,208.99 234,208.86 233,208.37 232.5,208.27 230.25,207 228.88,206 227.5,204.78 225.97,203 224.93,201.5 223.51,199 222.33,196.5 221.33,194 220.51,191.5 219.74,188.5 219.07,184.5 218.61,179.5 218.55,177.5 218.69,174.5 219.01,171.5 219.87,167 219.95,166 220.82,163 222.48,159.5 223.5,158.39 224.36,157 226.5,154.59 227.5,153.67 228,153.53 229.5,152.45Z" fill="#285fb2" stroke="#285fb2" stroke-width="0.3" fill-rule="evenodd"/>
<path d="M43,30 76.5,30.22 93,30.52 106.5,30.91 120,31.68 127.5,32.52 130,33 130.16,32.5 130.5,32.26 132,30.38 132.5,29.97 133.5,29.64 135.5,29.6 137.5,29.72 141,30.33 143.06,31 144.82,32 145.39,32.5 145.78,33 146.19,34 146.21,35.5 145.67,37.5 145.84,40 145.78,41 145.91,41.5 145.86,42.5 146,43 145.96,44 146.11,44.5 146.83,52 147.17,53.5 147.4,55.5 147.87,57 147.91,57.5 148.83,60 148.91,60.5 149.51,61.5 149.6,62 150.36,63.5 150.48,64 151.22,65 151.35,65.5 151.75,66 151.9,66.5 152.77,67.5 152.95,68 153.91,69 154.62,70 155.65,71 155.87,71.5 157.39,73 158.07,74 159,75.02 159.16,75.5 160.03,76.5 160.18,77 160.96,78 161.11,78.5 162.28,80.5 162.38,81 163.03,82.5 163.91,85.5 164.06,86.5 164.5,88 164.63,89.5 164.94,90.5 165.02,92 165.18,92.5 165.37,95.5 165.51,96 165.49,97.5 165.63,98 165.9,105.5 166.01,106 165.96,107 166.56,112.5 166.91,114 167.03,115.5 167.54,118 167.5,118.5 167.78,120.5 167.78,123.5 167.22,126.5 164.9,135 164.26,136.5 162.48,139 161,140.51 157.5,143.57 155,145.19 154.5,145.31 152.5,146.29 152,146.36 150,147.24 149.5,147.3 147.5,148.23 147,148.32 144.5,149.78 144,149.95 142,151.47 141.5,151.69 138.5,153.84 138,154.01 136.5,155.04 134.5,156.06 132,156.94 130.5,157.63 130,157.6 129,157.95 128.5,157.91 127.5,158.23 127,158.15 126,158.4 125.5,158.35 124.5,158.63 123,158.62 121.5,158.91 121,158.84 120,159.08 119.5,158.96 118.5,159.19 116,159.27 115,159.47 114.5,159.36 113.5,159.56 113,159.43 112,159.63 110.5,159.46 109,159.74 103.5,159.78 102.5,159.92 102,159.82 100.5,160.09 100,159.95 99,160.14 98.5,159.99 97.5,160.19 97,160.07 96.5,160.26 95.5,160.13 95,160.3 93.5,160.31 93,160.45 92.5,160.31 91.5,160.45 91,160.32 89.5,160.63 89,160.45 88.5,160.66 87.5,160.73 87,161.01 86.5,160.93 86,161.24 85.5,161.3 84.5,161.72 83.5,162.25 83.12,162.5 82.5,163.21 82.04,164 81.82,165 81.85,166.5 82.73,174 82.83,176.5 82.74,180.5 82.45,183.5 81.86,186.5 81.36,188 80.46,190 79.26,192 77.5,194.32 75.5,196.34 73.5,197.91 72,198.8 69,200.2 66.5,200.91 63.5,201.43 61.5,201.64 61.33,201.5 65.11,195.5 70.64,184 71.5,181.65 73.24,176 74.86,171.5 76.06,168.5 77.49,165.5 76.5,165.05 75.64,164 75,163.61 73,162.77 72.5,162.73 71.5,162.3 70,162.09 69.5,161.83 69,161.81 68.5,161.57 67,161.51 66,160.99 64.5,160.95 64,160.74 63.5,160.73 63,160.47 61.5,160.42 60.5,159.96 59,159.91 58.5,159.72 58,159.72 57.5,159.46 56,159.41 55,158.96 53,158.91 52,158.46 50.5,158.41 49.5,157.96 47.5,157.91 46.5,157.46 45,157.41 44,156.96 43,156.91ZM234.38,160 234.68,160 235.5,160.38 236,160.34 236.48,160.5 237,160.87 237.72,161 238.26,161.5 239.98,162.5 240.36,163 241.66,164 241.98,164.5 243.06,165.5 245.51,169 247.27,172 250.96,179.5 253.63,184 253.91,185 253.77,186 252.43,190.5 251.5,196.06 251.47,196.5 251.64,197 251.61,199.5 251.93,200.5 251.98,201.5 252.14,202 251,202.59 249.5,202.9 249,203.26 247.89,203.5 247,203.98 245.05,204.5 244.26,205 240,206.07 239.5,205.9 238,206.08 237.5,205.87 236.5,205.89 235,205.54 231.5,203.67 230,202.4 228.76,201 227.74,199.5 226.62,197.5 224.66,193 223.36,188.5 222.8,185 222.51,180 222.73,176.5 223,174.5 223.6,172 224.51,169 224.84,168.5 225.81,166 226.52,165 227,164 227.67,163.5 228.36,162.5 229,162.15 229.5,161.65 231,160.74 232,160.3 233,160.02 234,160.12Z" fill="#2a66b7" stroke="#2a66b7" stroke-width="0.3" fill-rule="evenodd"/>
<path d="M132.85,30 134,29.76 136.5,29.81 137.89,30 140.5,30.64 141.56,31 142.49,31.5 143.61,32.5 144.25,33.5 144.51,34.5 144.24,36.5 144.37,38 144.31,39 144.43,39.5 144.36,43.5 144.48,45.5 144.41,46.5 144.53,47 144.46,48 144.58,48.5 144.52,49.5 144.64,50 144.61,51 144.91,53.5 144.91,54.5 145.21,56 145.4,58 145.85,60 146.42,61.5 146.49,62 147.1,63 147.66,64.5 150.61,69.5 151.34,70.5 151.48,71 152.26,72 152.4,72.5 153.16,73.5 153.8,75 154.53,76 154.65,76.5 155,77 156.39,80 156.52,80.5 157.2,81.5 157.32,82 157.97,83 159.61,88 159.92,89.5 159.99,90.5 160.17,91 160.39,93.5 160.54,94 160.69,98 160.69,106 160.91,110 161.1,111 161.51,116 161.59,118.5 161.41,121 161.11,122.5 158.13,133 157.14,135 155.5,137.24 152.82,140 150,142.5 146.5,144.52 145,145.01 142.5,146.3 142,146.41 140,147.58 139,148.34 138.5,148.57 136.5,150.22 136,150.46 133,152.98 132.5,153.17 130.5,154.59 130,154.71 128.5,155.61 126.5,156.44 126,156.47 124.5,157.07 122.5,157.3 121.5,157.62 121,157.57 119.5,157.92 119,157.85 118.5,157.98 118,157.88 117,158.13 116.5,158.03 115.5,158.25 114.5,158.25 113.5,158.48 113,158.36 112,158.59 111.5,158.47 110.5,158.69 109.5,158.68 108.5,158.84 108,158.78 107,159.01 106.5,158.86 105.5,159.08 105,158.94 103.5,159.24 102.5,159.2 101.5,159.36 101,159.27 100,159.51 99.5,159.34 98.5,159.57 98,159.43 96.5,159.73 95.5,159.69 94,160.04 93.5,159.85 92.5,160.07 92,159.9 90.5,160.14 90,160.08 89.5,160.24 88.5,160.18 88,160.44 87.5,160.34 86.5,160.62 84.5,161.25 84,161.58 83.5,161.64 82.5,162.38 81.5,163.55 81,164.74 80.78,166 80.76,167 81.45,174.5 81.39,180.5 81.07,183.5 80.56,186 79.87,188 79.16,189.5 77.93,191.5 76.37,193.5 75,194.95 73,196.66 70.5,198.17 68,199.24 65,200.15 64,200.26 63.5,200.18 63.41,200 66.76,195 72,184.35 75.69,173 77.19,169 78.67,165.5 78.21,165 77.98,164 77.05,163 76.5,162.87 76,162.56 74.5,162.28 73.5,161.84 73,161.81 72.5,161.57 71,161.48 70,160.97 68.5,160.89 68,160.7 67.5,160.69 67,160.43 65.5,160.34 64.5,159.91 63,159.82 62,159.41 59.5,159.16 58.5,158.8 57.5,158.8 56,158.3 55,158.3 54,157.9 52,157.8 51,157.4 49.5,157.3 48,156.8 46.5,156.8 45.5,156.4 44,156.3 43,155.9 43,30.33 77.5,30.79 91.5,31.21 104.5,31.8 113,32.43 118.5,33.06 121.5,33.56 125.5,34.43 126.5,34.83 128.5,35.33 129,35.02 129.06,34.5 129.5,34.1 129.74,33.5 131.5,31.15 132,30.59ZM233.27,166 233.5,165.79 234,165.71 236,166.47 237.12,167 237.5,167.37 238,167.47 239.5,168.83 240,169.09 240.28,169.5 241.5,170.62 242.48,172 243.75,173.5 245.06,175.5 247.6,180 251,185.53 251.33,186.5 251.33,188 250.64,191.5 250.57,192.5 250.37,193 250.19,195.5 250.33,197.5 250.53,198 250.76,200 251.1,201 251.13,201.5 251,201.58 247.5,202.46 246,202.67 245.39,203 243.5,203.31 243,203.25 242,203.52 241.5,203.34 239,203.54 238.5,203.3 237.5,203.26 237,202.99 236.5,202.92 235,202.37 233,201.12 231.5,199.68 230.97,199 229.19,196 228.27,194 227.34,191.5 226.35,187.5 226,185.09 225.9,183 225.95,180.5 226.1,179 226.8,175.5 227.06,175 227.45,173.5 227.78,173 228.09,172 228.52,171.5 228.93,170.5 229.48,170 230,169 230.5,168.37 231.09,168 232.5,166.47Z" fill="#2a70bd" stroke="#2a70bd" stroke-width="0.3" fill-rule="evenodd"/>
<path d="M133.39,30 134.5,29.91 136.54,30 138,30.3 140.19,31 141.23,31.5 141.9,32 142.33,32.5 142.79,33.5 142.89,34.5 142.71,35.5 142.97,37 142.94,38.5 143.07,39 143.01,40 143.14,42 142.89,53.5 143.29,58 143.95,61 144.19,61.5 144.55,63 144.82,63.5 144.88,64 145.17,64.5 145.24,65 145.54,65.5 146.02,67 146.64,68 146.73,68.5 147.65,70.5 148.26,71.5 148.81,73 149.44,74 150.6,77 151.07,79 151.51,80 152.44,85.5 152.49,87 152.65,87.5 152.82,90 152.96,90.5 152.96,92 153.26,94 153.26,95 153.94,100.5 155.08,106 155.27,107.5 155.6,108.5 156.29,113 156.51,115.5 156.52,117.5 156.3,119.5 154.92,125 152.98,131.5 152.27,133 151.64,134 150,136.16 146.34,140 144.64,141.5 144,141.8 143,142.52 141.5,143.3 141,143.42 138,145.12 137.5,145.25 135.5,146.53 133.5,148.18 133,148.42 129.5,151.5 129,151.71 126.5,153.55 124.5,154.57 123.5,154.9 122,155.64 120.5,156.02 120,155.96 118.5,156.39 118,156.35 117,156.63 115.5,156.64 115,156.89 113.5,156.84 112.5,157.08 112,156.98 109,157.44 108.5,157.35 107.5,157.59 107,157.48 106.5,157.7 105.5,157.73 105,157.97 104.5,157.88 103.5,158.12 103,158.02 102,158.27 101,158.27 100,158.5 99.5,158.4 98,158.77 97,158.78 96,159 95.5,158.9 94,159.3 93,159.3 91.5,159.65 91,159.52 90.5,159.74 89.5,159.7 89,159.88 88.5,159.82 87,160.21 86.5,160.17 86,160.45 85.5,160.44 85,160.74 84.11,161 82.37,162 81.28,163.5 80.5,165.23 80.3,166 80,166.43 79.82,166.5 80.45,174 80.38,180 80.15,182.5 79.71,185 79.31,186.5 78.72,188 77.65,190 76.26,192 74.98,193.5 73,195.4 71,196.82 69.5,197.66 67,198.73 66,199.06 65.5,199.04 65.42,199 65.54,198.5 67,196.33 68.64,193.5 73.09,184.5 76.88,172.5 78.32,168.5 79.37,166 79.48,164.5 79.29,163.5 79,162.96 78.5,162.77 78,162.37 77.5,162.28 77,161.96 75,161.57 74,161.05 72.5,160.97 72,160.72 71.5,160.71 71,160.45 69.5,160.37 68.5,159.92 67,159.82 66,159.41 63.5,159.15 62.5,158.79 61.5,158.79 60.5,158.4 59,158.28 57.5,157.78 55.5,157.64 54.5,157.28 53.5,157.28 52.5,156.89 51,156.78 50,156.39 48.5,156.28 47.5,155.89 45.5,155.78 44,155.28 43,155.28 43,30.78 61.5,31.02 79.5,31.52 90,32.04 102.5,33 109,33.8 113,34.48 115,35 115.5,35.01 116.5,35.41 117,35.42 119,36.1 119.5,36.16 120,36.43 120.61,36.5 121.43,37 122,37.06 122.5,37.39 123,37.44 123.5,37.76 124.32,38 124.97,38.5 125.5,38.54 126,38.95 126.5,38.98 127,38.52 127.07,38 127.5,37.6 127.7,37 128.5,36.03 128.66,35.5 129,35.18 129.29,34.5 131.5,31.34 132.5,30.36ZM234.35,169.5 234.5,169.42 235.37,170 235.79,170.5 238,172.12 240.77,175 244.06,179.5 248.82,187 249.04,187.5 249.36,189 249.29,191 249.11,192 249.13,193 248.99,193.5 249.12,195 249.65,199 250.23,200.5 250.14,201 249,201.33 247.5,201.41 247,201.65 242,201.83 241.5,201.68 239.5,201.49 237.86,201 236.5,200.41 235,199.52 234,198.64 233,197.45 231.57,195 230.28,192 229.27,188.5 228.84,185.5 228.89,181.5 229.53,178 230.83,174.5 231.93,172.5 232.44,172 232.97,171 233.5,170.56 234,169.78Z" fill="#2b7bc4" stroke="#2b7bc4" stroke-width="0.3" fill-rule="evenodd"/>
<path d="M132.6,30.5 133.5,30.16 134.5,30.09 136.5,30.21 137.81,30.5 140.05,31.5 140.77,32 141.24,32.5 141.67,33.5 141.8,45 141.64,49.5 141.5,50.5 141.42,57 141.72,59.5 142.01,60.5 142.3,62.5 143.38,66 143.44,66.5 143.89,67.5 144.07,68.5 144.55,69.5 144.6,70 145.15,71.5 145.5,73.5 145.85,74.5 146.9,81 146.95,82.5 147.11,83 147.38,85.5 147.4,87 147.54,87.5 147.49,89 147.69,91 147.72,99.5 147.85,103 148.11,105 148.63,113 148.6,116 148.44,117.5 147.06,125 146.32,128 145.82,129.5 145.08,131 144.11,132.5 142.97,134 141.19,136 138,139.18 134.5,141.5 133.5,141.97 132.5,142.63 132,142.77 130,143.98 122,150.71 121,151.44 119,152.59 118,152.97 116,154.04 115.5,154.08 114,154.65 113,154.78 112,155.12 111.5,155.11 110,155.54 109.5,155.46 106.5,156.12 106,156.08 105.5,156.36 105,156.34 104.5,156.49 104,156.41 103.5,156.63 102.5,156.77 102,157.03 101.5,156.96 100,157.37 99.5,157.34 97.5,157.9 97,157.85 96,158.14 95.5,158.12 95,158.4 94.5,158.36 93.5,158.64 93,158.62 92.5,158.9 92,158.86 91,159.13 90.5,159.09 90,159.34 89.5,159.3 88,159.68 87.5,159.62 87,159.88 86.5,159.86 85,160.23 84.67,160.5 84,160.66 83.62,161 83,161.2 82.08,162 81,163.58 80.5,164.72 80.34,165.5 80,166 79.61,165.5 79.55,164.5 79.57,164 80.03,163.5 80,162.45 79.5,162.25 78.5,161.5 76,161.06 75,160.53 73.5,160.47 72.5,159.97 71,159.9 70.5,159.7 70,159.7 69.5,159.44 67.5,159.18 67,158.92 65.5,158.84 64.5,158.42 63,158.33 62,157.91 59.5,157.67 59,157.41 57,157.17 56,156.82 55,156.82 54,156.41 52.5,156.32 51.5,155.91 50,155.82 49,155.41 47,155.32 46,154.91 44.5,154.82 43,154.32 43,31.31 58,31.59 73.5,32.1 86,32.93 96.5,34.16 101.5,35.08 102,35.27 102.5,35.27 104.5,35.88 106,36.12 108,36.91 108.5,36.92 109,37.21 112,38.22 112.5,38.55 113,38.6 113.5,38.98 114,39 114.5,39.4 115.12,39.5 115.71,40 116.5,40.27 117,40.61 117.5,40.73 118,41.09 118.5,41.19 119,41.58 119.5,41.67 120,42.15 120.5,42.16 121,42.64 123,43.65 124,44 124.02,43.5 124.5,43.06 124.62,42.5 125,42.15 125.59,41 126,40.55 126.13,40 126.5,39.65 126.7,39 127,38.72 128.83,35.5 131,32.19 132,30.97ZM78.89,169 79,168.78 79.23,169 79.5,170.5 79.72,175 79.65,178.5 79.17,183.5 78.73,185.5 78.24,187 77.27,189 76.33,190.5 74.8,192.5 73.5,193.9 72,195.2 70,196.56 68,197.61 67.5,197.81 67,197.82 66.99,197.5 69.51,193.5 73.99,184.5 76.37,176.5ZM234.35,172.5 234.5,172.27 235,172.26 235.31,172.5 238.68,176 238.96,176.5 239.88,177.5 240.98,179 243.77,183 246.97,188 247.47,189 247.8,190.5 247.91,193 248.45,197 248.99,198.5 249.5,200.5 248.5,200.75 246,200.74 245.5,200.87 243.5,200.7 240.5,200.21 240,199.9 238.5,199.43 237,198.56 236,197.73 234.87,196.5 233.64,194.5 232.32,191.5 231.35,188 231,185 231.01,183 231.53,179.5 232.05,177.5 232.35,177 232.6,176 232.98,175.5 233.28,174.5Z" fill="#2b89cc" stroke="#2b89cc" stroke-width="0.3" fill-rule="evenodd"/>
<path d="M132.96,30.5 134,30.29 135.5,30.3 137.5,30.69 139.7,32 140.18,32.5 140.63,33.5 140.81,37.5 140.53,42 140.61,42.5 140.5,43.5 140.58,44 140.47,45 140.5,47 140.13,53 140.09,58 140.39,61.5 142.6,72.5 143.13,79.5 143.04,88.5 142.88,90 142.51,99 143.03,108.5 142.98,112.5 142.82,114 142.45,116 141.34,120.5 139.65,126.5 138.51,129 136.2,132.5 132.92,136.5 131,138.36 125.79,142 121.5,145.52 117.5,149.06 113,151.98 109.5,153.59 108.5,153.78 107.5,154.17 106.5,154.32 105.5,154.68 104.5,154.81 103.5,155.17 103,155.21 102.5,155.52 102,155.47 100.5,156.02 100,155.97 99.5,156.3 99,156.36 97.5,156.86 97,156.88 95,157.59 94.5,157.56 94,157.88 93.5,157.88 92,158.3 91.5,158.57 91,158.51 89,159.16 88.5,159.12 88,159.38 87.5,159.35 86.5,159.65 86,159.59 85.5,159.9 84.77,160 84.5,160.23 83.79,160.5 83.5,160.77 83,160.94 82,161.82 81,163.36 80.5,164.38 80.22,165.5 80,165.83 79.74,165.5 79.6,164.5 79.64,164 80.1,163.5 80,161.4 79.5,161.09 77,160.61 76,160.15 74.5,160.05 73.5,159.57 72,159.52 71,159.02 69.5,159 69,158.75 68.5,158.74 68,158.49 67,158.48 66.5,158.24 66,158.24 65.5,157.99 64.5,157.97 64,157.73 63.5,157.73 63,157.48 61.5,157.47 60.5,156.98 59,156.97 58,156.48 56.5,156.46 55.5,155.98 54,155.96 53.5,155.73 53,155.73 52.5,155.48 51.5,155.46 51,155.23 50.5,155.23 50,154.98 48.5,154.96 47.5,154.48 46,154.46 45,153.98 43.5,153.96 43,153.73 43,31.96 61,32.52 75.5,33.4 82,34.06 86.5,34.74 89.5,35.45 90,35.45 90.5,35.66 91,35.66 94,36.58 94.5,36.62 95,36.9 95.5,36.91 96,37.2 96.5,37.21 97,37.52 97.5,37.52 98,37.85 98.5,37.91 103,39.78 103.5,40.11 104,40.21 104.5,40.58 105,40.66 105.5,41.06 106,41.11 106.5,41.54 107,41.58 107.5,42.02 108,42.05 108.5,42.51 109,42.53 109.5,43.01 110,43.02 110.5,43.5 111,43.51 111.5,44 112,44.01 112.5,44.5 113,44.51 113.5,45 114,45.01 114.49,45.5 115,45.52 115.49,46 116,46.02 116.48,46.5 117,46.53 117.47,47 118,47.04 118.46,47.5 119,47.55 119.44,48 120,48.07 120.43,48.5 121,48.58 121.5,49 121.51,48.5 122,48.04 122.05,47.5 122.5,47.07 122.6,46.5 123,46.12 123.16,45.5 123.5,45.18 123.73,44.5 124,44.24 124.33,43.5 125,42.5 126.29,40 129.9,34 131.5,31.7 132,31.15ZM78.47,172 78.63,172 79.03,172.5 79.09,176 78.97,179 78.57,183 78.17,185 77.71,186.5 77.04,188 76.19,189.5 73.93,192.5 72.5,193.94 71.22,195 69.5,196.18 68.5,196.66 68.36,196.5 70.21,193.5 74.5,185.04ZM234.77,174.5 235,174.03 235.53,174.5 235.84,175 236.84,176 237.12,176.5 238.03,177.5 242.25,183.5 245.78,189 246.27,190 246.97,192.5 247.22,194.5 248.62,199.5 248.5,200.06 248,200.24 245.5,200.09 243,199.74 241,199.24 240.5,198.89 239,198.24 237.5,197.13 236.03,195.5 235.11,194 233.77,191 233.15,189 232.74,187 232.51,184.5 232.7,181.5 233.03,179.5 233.93,176.5Z" fill="#2b9ad6" stroke="#2b9ad6" stroke-width="0.3" fill-rule="evenodd"/>
<path d="M133.82,30.5 136,30.56 137.51,31 139.17,32.5 139.46,33 139.92,35 139.95,38 139.43,43 138.99,49.5 138.96,52.5 138.8,55 138.92,60 139.48,65 139.45,66 139.72,67.5 140.05,71 140.11,78.5 139.53,88 138.97,93 138.66,97.5 138.41,106.5 137.84,111.5 137.05,115 134.17,125 132.74,128 130.49,131.5 127.84,135 126.5,136.39 119.59,141.5 117.5,143.3 112.24,148.5 111,149.59 107.69,152 106,152.89 105.5,152.96 104,153.64 103,153.85 101,154.69 100,154.88 98,155.72 97,155.93 96.5,156.28 96,156.36 94,157.19 93,157.35 91,158.13 90.5,158.16 90,158.51 89.5,158.47 89,158.79 88.5,158.82 87.5,159.15 87,159.12 86.5,159.41 86,159.39 84.38,160 83,160.81 82,161.56 80.5,164.14 80.31,165 80,165.66 79.7,165 79.65,164.5 79.71,164 80.16,163.5 80.05,161.5 80.5,161.01 80.5,160.8 79,160.46 78,159.92 75.5,159.6 74.5,159.18 73,159.07 72,158.63 70.5,158.56 69.5,158.11 68,158.05 67,157.59 65.5,157.54 65,157.28 63,157.04 62.5,156.78 60.5,156.54 60,156.27 59.5,156.27 59,156.08 57.5,156.04 56.5,155.58 55,155.54 54,155.08 52.5,155.04 51.5,154.58 50,154.54 49,154.08 47.5,154.04 46.5,153.58 45,153.54 44,153.08 43,153.08 43,32.87 55.5,33.43 67,34.33 73.5,35.11 76.5,35.72 78,35.9 78.5,36.09 79,36.09 80.5,36.5 81,36.5 83,37.16 84,37.34 86,38.09 86.5,38.15 87,38.48 87.5,38.48 88,38.84 88.5,38.84 89,39.12 89.5,39.22 90,39.56 90.5,39.61 91,40.01 91.5,40.01 92,40.43 92.5,40.43 93.5,40.87 95,41.64 95.5,41.77 96,42.12 96.5,42.23 97,42.61 97.5,42.71 98,43.09 99,43.34 106.5,47.14 107,47.14 107.5,47.64 108,47.65 108.5,48.15 109,48.15 109.35,48.5 110,48.66 110.34,49 111,49.17 111.33,49.5 112,49.67 112.32,50 113,50.18 113.32,50.5 114,50.69 114.31,51 115,51.2 115.5,51.6 116.5,51.86 117,52.22 117.77,52.5 118,52.73 118.76,53 119,53.24 119.5,53.02 119.53,52.5 120,52.05 120.06,51.5 120.5,51.08 120.61,50.5 121,50.12 121.14,49.5 121.5,49.16 121.69,48.5 122,48.2 122.24,47.5 122.5,47.25 122.8,46.5 123,46.31 125.3,42 130.5,33.25 132,31.34 133,30.68ZM78.38,174.5 78.5,174.26 78.52,177 78.22,181.5 77.71,184.5 77.1,186.5 75.83,189 74.06,191.5 72,193.67 71,194.51 70,195.14 69.9,195 71.1,193 75,185.3 75.63,183.5 77.9,175.5 78,175.22 78.36,175ZM235.31,176 235.5,175.9 236.02,176.5 239.28,181 245.05,190 245.73,191.5 246.59,194.5 246.61,195 248,199.51 247.5,199.76 245.5,199.55 243.5,199.17 241.5,198.53 239,197.04 238,196.11 237.06,195 236.12,193.5 235.17,191.5 234.31,189 233.79,186.5 233.63,185 233.71,182 233.97,180 234.61,177.5 235,176.46Z" fill="#2dafe1" stroke="#2dafe1" stroke-width="0.3" fill-rule="evenodd"/>
<path d="M132.78,31 133.5,30.76 135.5,30.74 136.71,31 137.5,31.43 138.26,32.5 138.89,34 139.17,35.5 139.08,39 138.72,42.5 138.01,47.5 137.56,53.5 137.54,57.5 138.15,67.5 137.96,74.5 136.94,84.5 135.54,95 135.07,104 134.63,108 134.29,110 133.55,113 131.79,119 130.17,124 129,126.5 126.09,131 123.75,134 122.79,135 121,136.55 119,137.91 115.5,140.65 112,144.42 109.36,147.5 107,149.87 104.5,151.79 102,153.06 101.5,153.15 101,153.55 100,153.8 97.5,154.96 97,154.99 96.5,155.42 96,155.47 92.5,157.11 92,157.18 91.5,157.54 91,157.55 88.5,158.57 88,158.57 87.5,158.9 87,158.89 84.07,160 81.92,161.5 80.44,164 80.24,165 80,165.49 79.76,165 79.7,164.5 79.78,164 80.23,163.5 80.08,161.5 80.53,161 80.5,160.05 80,159.99 79,159.37 76.5,159.04 75.5,158.54 74,158.49 73,157.98 71.5,157.93 70.5,157.45 69,157.39 68,156.93 66.5,156.87 65.5,156.43 64,156.36 63,155.92 61.5,155.85 60,155.42 59,155.35 57.5,154.92 56.5,154.85 55,154.42 54,154.35 52.5,153.92 50.5,153.64 50,153.42 48.5,153.35 47.5,152.92 46,152.85 45,152.42 43.5,152.35 43,152.14 43,34.32 52,35.04 60,36.02 65,37.04 65.5,37.04 68,37.72 68.5,37.98 69,37.98 70,38.26 70.5,38.53 71,38.54 71.5,38.85 72,38.86 72.5,39.11 73,39.18 73.5,39.51 74,39.52 74.5,39.89 75,39.89 76,40.27 76.5,40.59 77,40.67 77.5,41.04 78,41.07 80.5,42.2 81.5,42.44 82,42.84 82.5,42.92 83,43.3 83.71,43.5 84,43.78 84.5,43.78 85,44.25 85.5,44.25 85.76,44.5 86.5,44.73 87,45.11 87.5,45.22 88,45.61 89,45.86 91.5,47.19 92,47.19 92.5,47.69 93,47.69 93.31,48 94,48.19 94.5,48.6 95,48.69 95.5,49.1 96.5,49.35 98,50.2 98.8,50.5 99,50.7 99.8,51 100,51.2 100.5,51.2 100.79,51.5 101.5,51.71 101.79,52 102.5,52.21 102.79,52.5 103.5,52.72 104,53.11 105,53.36 105.5,53.73 106.27,54 106.5,54.24 107.26,54.5 107.5,54.74 108,54.75 108.25,55 109,55.25 109.25,55.5 110,55.76 110.24,56 111,56.27 111.5,56.64 112.5,56.89 113,57.28 113.71,57.5 114,57.79 114.7,58 115,58.3 116.5,58.82 116.51,58.5 117,58.05 117.07,57.5 117.5,57.1 117.6,56.5 118,56.12 118.12,55.5 118.5,55.14 118.64,54.5 119,54.16 119.17,53.5 119.5,53.19 119.7,52.5 120,52.22 120.23,51.5 120.5,51.24 121.31,49.5 127.99,37.5 131,32.71 132,31.53ZM77.96,177.5 78,177.32 78,178.1 77.98,178ZM235.47,177.5 235.5,177.28 235.62,177.5 236,177.65 237.67,180 242.21,187 244.62,191 245.46,193 246.18,195.5 247.26,198.5 247.39,199 247,199.3 245,198.98 243,198.43 242,198.03 240.5,197.11 239,195.98 237.73,194.5 236.81,193 236.08,191.5 235.17,189 234.5,185.5 234.43,184 234.6,181 235.1,178.5ZM77.49,178.5 77.61,178.5 77.87,179 77.81,181 77.43,183.5 76.78,186 75.86,188 74.58,190 73,191.98 71.98,193 71.91,192.5 75.46,185.5 76.56,182Z" fill="#3fbad9" stroke="#3fbad9" stroke-width="0.3" fill-rule="evenodd"/>
<path d="M133.45,31 135.5,30.99 137,31.55 137.39,32 137.95,33.5 138.42,36 138.38,38 138.06,41.5 136.44,53 136.31,57 136.68,63.5 136.71,67.5 136.56,70.5 136.05,75.5 135.05,82 133.07,93 132.51,97.5 131.94,104 130.99,109.5 128.14,119 126.76,123 126,124.62 124,127.96 121.47,131.5 120.28,133 118.8,134.5 117,136.04 114.5,137.9 112,140.26 106.31,147.5 104.96,149 103.37,150.5 103.02,151 101.5,151.85 101,152.27 97.5,154.06 97,154.18 96.5,154.58 95.5,154.89 95,155.27 90,157.65 89.5,157.78 89,158.11 88,158.32 84,159.83 81.81,161.5 80.5,163.84 80.17,163 80.1,162 80.12,161.5 80.56,161 80.51,159 80.62,158.5 80,158 78.5,157.57 78,157.54 77,156.99 75.5,156.86 73.5,156.26 72,156.1 71,155.69 69.5,155.57 68.5,155.14 67,155.06 66,154.62 64.5,154.55 63.5,154.11 62,154.05 61,153.6 59.5,153.55 58.5,153.1 57,153.05 56.5,152.78 54.5,152.55 54,152.28 52,152.05 51.5,151.78 49.5,151.55 49,151.28 47,151.05 46.5,150.78 44.5,150.55 44,150.28 43.5,150.28 43,150.1 43,37.53 43.5,37.54 45.5,38.07 46,38.09 48,38.67 49,38.84 50.5,39.27 51,39.53 51.5,39.55 52,39.85 52.5,39.91 54,40.49 54.5,40.49 55,40.84 55.5,40.91 58,41.99 58.5,41.99 59,42.4 59.5,42.45 60,42.83 60.5,42.91 61,43.27 62.5,43.72 63,44.09 63.5,44.17 64,44.57 64.5,44.64 65,45.06 66,45.3 69.5,47.02 70,47.04 70.5,47.51 71,47.53 71.5,48.01 72,48.02 72.5,48.51 73,48.51 77,50.5 77.5,50.5 78,51 78.5,51 79,51.5 79.5,51.5 80,52 80.5,52 84.5,54 85,54.01 85.49,54.5 86,54.51 86.49,55 87,55.01 87.5,55.5 88,55.51 92,57.51 92.5,57.52 92.98,58 93.5,58.02 93.97,58.5 94.5,58.53 95,59.01 95.5,59.03 99.5,61.02 100,61.05 100.45,61.5 101,61.55 101.44,62 102,62.06 102.5,62.53 103,62.56 107,64.54 107.5,64.59 107.91,65 108.5,65.1 108.9,65.5 109.5,65.6 109.9,66 111,66.31 112.5,67.12 113,66.55 113.05,66 113.5,65.57 113.57,65 114,64.58 114.08,64 114.5,63.59 114.58,63 115,62.59 115.09,62 115.5,61.6 115.6,61 116,60.57 116.1,60 116.5,59.52 116.61,59 117,58.43 118.34,55.5 120.4,51.5 124.42,44 128,37.65 130,34.35 131.5,32.26 132.5,31.36ZM79.85,164 80,163.84 80.29,164 80.3,164.5 80,165.35 79.75,164.5ZM235.61,179 236,178.75 236.61,179.5 244.16,191.5 245.6,195 246.82,198.5 246.5,198.84 244,198.27 242,197.42 240,196 239,195.04 238.2,194 237.3,192.5 236.59,191 235.86,189 235.22,186 235.06,183.5 235.12,182ZM76.98,182 77.11,183 77,183.39 76.82,183ZM76.4,184 76.5,183.69 76.74,184 76.67,185 76.39,185.5 76.11,186.5 75.1,188.5 74,190.09 73.84,190 73.89,189.5 75.01,187.5 76.19,185ZM73.43,190.5 73.5,190.34 73.58,190.5 73.5,190.61Z" fill="#50c0cb" stroke="#50c0cb" stroke-width="0.3" fill-rule="evenodd"/>
<path d="M132.7,31.5 133.5,31.26 134.5,31.21 136,31.46 136.5,31.77 137.11,32.5 137.61,35 137.61,38.5 137.16,42.5 135.87,50.5 135.31,55 135.21,59 135.32,65 135.2,69 134.65,74 133.54,80.5 131,92.5 128.94,106 127.76,110.5 124.93,119 123.57,122.5 122.53,124.5 121.01,127 117.37,132 115.95,133.5 111.02,138 110,139.12 108.55,141 104.5,147 102.93,149 101.5,150.5 100.24,151.5 98.69,152.5 96,154.06 95.5,154.22 95,154.63 94,154.98 93.5,155.48 93,155.61 92.5,156.06 91.5,156.37 91,156.74 89.5,157.38 89,157.74 85.5,159.15 85,159.22 84.5,159.56 84,159.62 81.7,161.5 80.5,163.72 80.22,163 80.16,161.5 80.58,161 80.56,159 81.02,158.5 81.04,156.5 81.5,156 81.52,154 82,153.5 82,152.17 81,151.36 80.5,151.27 79.5,150.76 78.5,150.54 78,150.25 77.5,150.22 77,149.95 76,149.81 74.5,149.21 73,149.07 72,148.6 71,148.53 70,148.04 68.5,148.01 67.5,147.5 66.5,147.49 65.5,146.99 64,146.97 63,146.49 62,146.47 61,145.98 59.5,145.96 58.5,145.48 57.5,145.46 57,145.23 56.5,145.23 56,144.98 55,144.96 54,144.48 53,144.46 52.5,144.23 52,144.23 51.5,143.98 50.5,143.96 49.5,143.48 48,143.46 47,142.98 46,142.96 45,142.48 43.5,142.46 43,142.23 43,49.08 43.42,49.5 44,49.57 44.5,50.04 45,50.07 45.5,50.53 46,50.57 46.5,50.78 50,52.56 50.5,52.56 51,53.06 51.5,53.06 52,53.56 52.5,53.56 52.94,54 53.5,54.06 54,54.53 54.5,54.55 55,55.03 55.5,55.05 56,55.53 56.5,55.55 57,55.78 60.5,57.55 61,57.55 61.5,58.05 62,58.05 62.45,58.5 63,58.55 63.45,59 64,59.05 64.45,59.5 65,59.55 65.5,60.03 66,60.05 66.5,60.28 70,62.06 70.5,62.06 71,62.56 71.5,62.56 72,63.06 72.5,63.06 72.94,63.5 73.5,63.56 73.94,64 74.5,64.06 74.94,64.5 75.5,64.56 76,65.03 76.5,65.06 77,65.28 80.5,67.06 81,67.06 81.5,67.56 82,67.56 82.44,68 83,68.06 83.44,68.5 84,68.56 84.44,69 85,69.07 85.5,69.53 86,69.57 86.5,69.78 91,72.07 91.5,72.07 91.93,72.5 92.5,72.58 92.92,73 93.5,73.08 93.92,73.5 94.5,73.58 94.92,74 95.5,74.08 96,74.54 96.5,74.58 97,74.79 100.5,76.59 101,76.59 101.41,77 102,77.1 102.4,77.5 103,77.6 103.4,78 104,78.1 104.4,78.5 105,78.6 105.5,79.05 106,79.11 107,79.5 107,79 107.5,78.51 107.52,78 108,77.5 108.02,77 108.24,76.5 108.5,76.26 108.69,75.5 109,75.19 109.16,74.5 109.5,74.17 109.65,73.5 110,73.16 110.14,72.5 110.5,72.15 110.63,71.5 111,71.14 111.13,70.5 111.5,70.14 111.63,69.5 112,69.13 112.12,68.5 112.5,68.11 112.62,67.5 113.03,67 113.12,66.5 113.5,66 113.62,65.5 114,64.88 114.31,64 114.5,63.82 114.77,63 115,62.78 115.25,62 115.62,61.5 115.73,61 116.11,60.5 116.22,60 116.5,59.67 116.72,59 117,58.62 118.73,55 123.42,46 127,39.55 130,34.52 131.5,32.46ZM79.93,164 80.15,164 80.24,164.5 80,165.2 79.8,164.5ZM235.9,180 236,179.77 237.32,181.5 243.26,191 244.5,193.45 245.5,195.87 246.27,198 246,198.39 244,197.85 242,196.89 239.7,195 238.86,194 237.93,192.5 236.78,190 236.16,188 235.75,186 235.58,183 235.66,181.5Z" fill="#58c1be" stroke="#58c1be" stroke-width="0.3" fill-rule="evenodd"/>
<path d="M133.82,31.5 135.5,31.7 136,31.93 136.61,32.5 136.93,34 136.99,35.5 136.78,39.5 136.54,41.5 134.34,56 134.07,60.5 134.04,64.5 133.5,71 133.01,74.5 132.19,79 129.5,91 126.84,105.5 125.36,110.5 121.91,120 121.02,122 119.95,124 118.41,126.5 116.01,130 113.65,133 109.1,137.5 106.49,141 103.82,145.5 102.48,147.5 100.52,150 99.43,151 98,152.05 91.54,156 86.77,158.5 86,158.66 85.5,159.03 85,159 84.5,159.39 84,159.45 83.5,159.89 83,160.11 81.59,161.5 80.5,163.61 80.26,163 80.16,162 80.2,161.5 80.61,161 80.61,159 81.04,158.5 81.14,156.5 81.53,156 81.67,154 82,153.67 82.1,152 82.5,151.28 82.63,149.5 83.03,149 83.08,147.5 83.5,146.83 83.65,145 84,144.64 84.09,143 84.5,142.58 84.55,141 85,140.55 85.03,139 85.5,138.53 85.5,137.1 84.5,136.62 83.5,136.54 82.5,136.03 82,136.01 81,135.49 80,135.47 79,134.97 78,134.93 77,134.46 76,134.41 73.5,133.45 72.5,133.39 71.5,132.94 70.5,132.88 69.5,132.44 68.5,132.37 68,131.94 67,131.87 66,131.44 65,131.37 64,130.94 63,130.87 62,130.44 61,130.37 60.5,129.93 59.5,129.87 58.5,129.43 57.5,129.37 56.5,128.93 55.5,128.87 54.5,128.37 53.5,128.37 53,127.93 52,127.87 51,127.43 50,127.37 49,126.93 48,126.87 47,126.37 46,126.37 45.5,125.93 44.5,125.87 43.5,125.43 43,125.37 43,70.35 43.5,70.69 44,70.69 44.5,71.19 45,71.19 45.5,71.6 46.5,71.69 47,72.19 47.5,72.19 48,72.6 49,72.85 49.5,73.19 50,73.19 50.5,73.69 51,73.69 51.5,74.1 52.5,74.19 53,74.69 53.5,74.69 54,75.1 55,75.35 55.5,75.69 56,75.69 56.5,76.19 57,76.19 57.5,76.6 58.5,76.69 59,77.19 59.5,77.19 60,77.6 61,77.85 61.5,78.19 62,78.19 62.5,78.69 63,78.69 63.5,79.1 64.5,79.19 65,79.69 65.5,79.69 66,80.1 67,80.35 67.5,80.69 68,80.69 68.5,81.19 69,81.19 69.5,81.6 70.5,81.85 71,82.19 71.5,82.19 72,82.6 73,82.85 73.5,83.19 74,83.19 74.5,83.69 75,83.69 75.5,84.1 76.5,84.35 77,84.69 77.5,84.69 78,85.1 79,85.35 79.5,85.69 80,85.69 80.31,86 81,86.19 81.5,86.6 82.5,86.85 83,87.19 83.5,87.19 84,87.6 85,87.85 85.5,88.19 86,88.2 86.3,88.5 87,88.7 87.5,89.1 88.5,89.35 89,89.7 89.5,89.7 90,90.1 91,90.35 91.5,90.7 93,91.2 93.5,91.6 94.5,91.85 95,92.2 95.5,92.2 96,92.6 97,92.85 97.5,93.2 99,93.7 99.5,94.1 100,94.2 100.5,94 100.53,93 101,92.54 101.03,92 101.5,91.54 101.53,91 102,90.53 102.14,89.5 102.5,89.15 102.59,88.5 103,88.1 103.08,87.5 103.5,87.09 103.57,86.5 104,86.08 104.07,85.5 104.5,85 104.57,84.5 105,83.81 105.23,83 105.5,82.73 105.7,82 106,81.7 106.18,81 106.5,80.68 106.67,80 107,79.67 107.16,79 107.5,78.66 107.65,78 108.07,77.5 108.15,77 108.55,76.5 108.65,76 109.03,75.5 109.14,75 109.52,74.5 109.64,74 110,73.48 111.32,70.5 111.5,70.32 111.79,69.5 112,69.29 112.26,68.5 112.63,68 112.75,67.5 113.1,67 113.23,66.5 113.5,66.15 117.32,58 122.98,47 128,37.97 130.5,33.96 132,32.2 133,31.63ZM80,164 80.18,164.5 80,165.06 79.85,164.5ZM236.18,181.5 236.5,181.02 243.29,192 245.5,196.76 245.73,197.5 245.5,197.93 243.5,197.24 242,196.4 239.86,194.5 238.46,192.5 237.27,190 236.4,187 236.03,184 236.03,182.5Z" fill="#5fc2b2" stroke="#5fc2b2" stroke-width="0.3" fill-rule="evenodd"/>
<path d="M132.82,32 134,31.83 135.5,32.13 136.31,33 136.51,34.5 135.78,42 133.62,55.5 132.69,66 132.06,71 130.99,77 128,90 126.03,100.5 125.07,105 123.69,109.5 120.11,119 118.19,123 117.03,125 113.75,130 112.19,132 109,135.4 107,137.81 105.8,139.5 101.45,147 99.2,150 96.5,152.27 93,154.43 92.5,154.96 91.5,155.41 91,155.89 90.5,156.03 90.05,156.5 89,156.87 88.5,157.27 87.86,157.5 87.5,157.85 86.93,158 86.5,158.39 86,158.44 85.5,158.79 84.72,159 83,159.95 81.5,161.49 80.5,163.49 80.3,163 80.19,162 80.24,161.5 80.63,161 80.67,159 81.06,158.5 81.11,157 81.23,156.5 81.55,156 81.65,154.5 82,153.82 82.19,152 82.51,151.5 82.65,150 83.07,149 83.22,147.5 83.53,147 83.67,145.5 84,145 84.15,143.5 84.5,142.88 84.63,141.5 85,140.86 85.13,139.5 85.5,138.92 85.64,137.5 86.02,137 86.17,135.5 86.5,135.17 86.59,134 86.77,133.5 87,133.26 87.12,132 87.5,131.59 87.58,130.5 87.72,130 88,129.72 88.12,128.5 88.5,128.12 88.59,127 89,126.37 89.18,125 89.5,124.68 89.63,123.5 90,123.13 90.1,122 90.53,121.5 90.59,120.5 91.01,120 91.08,119 91.5,118.44 91.58,117.5 92,116.87 92.07,116 92.5,115.37 92.58,114.5 93,113.96 93.08,113 93.51,112.5 93.59,111.5 94.03,111 94.11,110 94.5,109.61 94.65,108.5 95,108.15 95.07,107.5 95.26,107 95.5,106.77 95.59,106 96.02,105.5 96.14,104.5 96.5,104.14 96.58,103.5 96.76,103 97,102.76 97.11,102 97.54,101.5 97.69,100.5 98,100.2 98.11,99.5 98.5,99.05 98.7,98 99,97.7 99.12,97 99.5,96.57 99.59,96 99.75,95.5 100,95.26 100.16,94.5 100.5,94.16 100.62,93.5 101,92.97 101.25,92 101.5,91.75 101.68,91 102.08,90.5 102.15,90 102.52,89.5 102.63,89 103,88.37 103.27,87.5 103.5,87.28 103.72,86.5 104,86.23 104.2,85.5 104.5,85.15 104.68,84.5 105.04,84 105.17,83.5 105.51,83 107.31,79 108.14,77.5 108.28,77 108.62,76.5 108.76,76 109.1,75.5 109.25,75 109.59,74.5 117.42,58 119.91,53 124.5,44.34 129,36.47 131,33.5 132,32.46ZM79.9,164.5 80,164.16 80.12,164.5 80,164.89ZM236.49,182 236.74,182.5 237,182.62 237.62,183.5 243.12,192.5 245.25,197 245,197.48 243,196.6 241.42,195.5 239.96,194 238.62,192 237.5,189.5 236.78,187 236.42,184.5Z" fill="#63c2a9" stroke="#63c2a9" stroke-width="0.3" fill-rule="evenodd"/>
<path d="M132.39,32.5 133.5,32.19 134.5,32.29 135.19,32.5 135.68,33 135.95,33.5 136.09,35 135.5,38.5 135.01,42.5 133,54.5 132.38,60.5 131.46,67 129.94,75 126.34,90 124.51,99.5 123.39,104.5 122.18,108.5 119.54,115.5 117.44,120.5 114.93,125 111.34,130.5 107,135.62 105.59,137.5 104,140 101.04,145.5 98.37,149.5 96.5,151.4 95.48,152 95,152.55 94,153.05 93.63,153.5 92.5,154.09 92.16,154.5 90.71,155.5 86.5,158.03 83.5,159.48 83,159.85 81.5,161.41 81,162.18 80.5,163.39 80.22,162 80.28,161.5 80.66,161 80.72,159 81.08,158.5 81.16,157 81.58,156 81.72,154.5 82,153.97 82.18,152.5 82.55,151.5 82.73,150 83,149.47 83.2,148 83.57,147 83.79,145.5 84.04,145 84.26,143.5 84.53,143 84.74,141.5 85.02,141 85.25,139.5 85.5,139.14 85.78,137.5 86.06,137 86.17,136 86.59,135 86.7,134 87,133.54 87.28,132 87.58,131.5 87.69,130.5 88,130.01 88.15,129 88.59,128 88.72,127 89,126.63 89.18,125.5 89.5,124.97 89.65,124 90,123.33 90.27,122 90.59,121.5 90.74,120.5 91.07,120 91.22,119 91.55,118.5 91.71,117.5 92.05,117 92.21,116 92.5,115.64 92.72,114.5 93.06,114 93.23,113 93.57,112.5 93.76,111.5 94,111.26 94.14,110.5 94.6,109.5 94.66,109 95,108.43 95.19,107.5 95.5,107.08 95.74,106 96,105.72 96.69,103.5 97.02,103 97.27,102 97.6,101.5 97.68,101 98,100.46 98.25,99.5 98.5,99.21 99.26,97 99.5,96.73 100.32,94.5 100.64,94 100.74,93.5 101,93.14 102.26,90 102.5,89.7 104.79,84.5 120,53 124.5,44.49 128.5,37.48 131,33.75ZM79.95,164.5 80,164.33 80,164.7ZM236.82,183.5 237,183.18 242.74,192.5 244.71,196.5 244.5,197 243,196.25 241.5,195.14 240.01,193.5 239.02,192 237.87,189.5 237.24,187.5 236.75,184.5Z" fill="#66c29f" stroke="#66c29f" stroke-width="0.3" fill-rule="evenodd"/>
<path d="M132.11,33 133,32.63 133.5,32.62 134.5,32.76 134.96,33 135.5,33.84 135.63,35.5 132.97,50 131.13,63.5 129.64,71 128.08,77.5 124.99,89 121.88,103.5 120.54,108 118.46,113.5 116.42,118.5 115.48,120.5 112.96,125 110.14,129.5 108.31,132 105.5,135.44 103.5,138.39 99.44,146 97.56,149 95.23,151.5 91,154.74 89.81,155.5 89.5,155.86 89,156.06 88.62,156.5 86.2,158 83.5,159.32 82.69,160 82,160.66 81.01,162 80.5,163.29 80.25,162 80.32,161.5 80.68,161 80.65,159.5 80.77,159 81.1,158.5 81.21,157 81.61,156 81.68,155 82.03,154 82.24,152.5 82.58,151.5 83.28,148 83.62,147 83.75,146 84.09,145 84.23,144 85.07,141 85.22,140 85.58,139 85.73,138 86.11,137 86.26,136 86.51,135.5 86.81,134 87.06,133.5 87.23,132.5 87.5,131.92 87.8,130.5 88.05,130 88.23,129 88.5,128.47 89.75,124 90,123.53 90.22,122.5 90.64,121.5 90.71,121 91.12,120 92.35,116 92.61,115.5 94.77,109 95,108.62 95.31,107.5 95.5,107.25 97.78,101 100.85,93.5 104.9,84.5 119.5,54.14 123.5,46.5 128,38.51 130.5,34.65 131.5,33.49ZM80,164.5 80,164.49 80,164.51ZM237.2,185 237.5,184.65 237.77,185 242.1,192 244.18,196 244,196.45 243,195.91 241.5,194.74 240.38,193.5 239.68,192.5 238.85,191 237.84,188.5 237.34,186.5Z" fill="#6bc397" stroke="#6bc397" stroke-width="0.3" fill-rule="evenodd"/>
<path d="M131.89,33.5 132.5,33.19 133,33.11 134,33.16 134.5,33.41 135,34.01 135.15,36 134.92,37.5 133.5,43.5 132.45,49 131.59,54.5 131.49,56 130.55,62.5 129.45,68 128.48,72 123.64,89 120.49,102.5 119.14,107 117.25,112 114.56,118.5 112.52,122.5 110.52,126 107.69,130.5 105.02,134 102.93,137 101.04,140.5 98.58,145.5 96.47,149 94.76,151 92.29,153 91.27,154 87.88,156.5 87.5,156.94 87,157.14 86.69,157.5 85.5,158.03 85.02,158.5 84.5,158.59 84,159.04 83.5,159.17 82,160.53 80.95,162 80.5,163.19 80.28,162 80.36,161.5 80.71,161 80.68,159.5 81.12,158.5 81.25,157 81.63,156 81.72,155 82.06,154 82.29,152.5 82.62,151.5 83.82,146 87.31,132.5 89.84,124 92.27,116.5 94.87,109 97.88,101 100.32,95 103.37,88 119.5,54.3 122.5,48.52 127.5,39.57 130,35.59 131,34.32ZM237.48,185.5 237.5,185.35 237.5,185.65ZM237.67,186 238,185.87 241.77,192 243.66,195.5 243.5,195.84 242.5,195.24 241.5,194.36 240.72,193.5 239.7,192 238.69,190 238.14,188.5 237.72,187Z" fill="#70c48f" stroke="#70c48f" stroke-width="0.3" fill-rule="evenodd"/>
<path d="M131.79,34 132.5,33.71 133,33.67 133.5,33.69 134,33.9 134.53,34.5 134.64,36.5 134.45,38 133.98,40 131.96,48 131.03,53.5 130.92,55 130,61.5 129.22,65.5 127.08,74 122.08,90.5 119.03,102.5 118.11,105.5 116.24,110.5 113.54,117 111.1,122 106.79,129.5 102.92,135 102.02,136.5 100.68,139 97.35,146 95.9,148.5 94.86,150 94.37,150.5 92.35,152.5 89.92,154.5 89.56,155 86.83,157 86.5,157.38 85.5,157.87 85,158.31 84.5,158.44 84,158.9 83.5,159.01 82.5,159.92 81.95,160.5 80.89,162 80.5,163.08 80.31,162 80.4,161.5 80.73,161 80.71,159.5 81.14,158.5 81.3,157 81.66,156 81.76,155 82.09,154 84.37,144 87.39,132.5 90.39,122.5 92.85,115 95.87,106.5 98.36,100 100.4,95 103.91,87 120,53.46 124.5,45.04 128,38.95 130,35.89 131,34.65ZM237.98,187 238,186.9 238.07,187ZM238.21,187.5 238.5,187.22 239.64,189 242.87,194.5 243.14,195 243,195.23 242.5,194.93 241.5,194.01 240.3,192.5 238.97,190 238.25,188Z" fill="#76c686" stroke="#76c686" stroke-width="0.3" fill-rule="evenodd"/>
<path d="M131.87,34.5 132.5,34.32 133,34.35 133.5,34.54 133.96,35 134.08,35.5 134.1,37 133.51,40.5 131.81,46.5 130.87,50.5 130.5,52.5 129.6,59.5 128.36,66 126.56,73 121.39,89.5 118.08,101.5 116.8,105.5 115.66,108.5 112.33,116.5 110.44,120.5 105.78,129 101.83,135 100.98,136.5 96.81,145.5 94.91,149 93.29,151 92,152.28 91,153.05 90.69,153.5 88.94,155 88.57,155.5 87.5,156.18 87.26,156.5 85,158.11 83.38,159 82.5,159.77 80.83,162 80.5,162.98 80.34,162 80.43,161.5 80.76,161 80.73,159.5 81.16,158.5 81.34,157 81.68,156 81.81,155 84.93,142 87.88,131 89.84,124.5 92.93,115 95.4,108 98.44,100 101.98,91.5 105,84.81 120,53.63 123,47.96 127.5,40.01 130,36.23 131,35.05ZM238.48,188 238.5,187.91 238.54,188ZM238.87,188.5 239,188.4 242.08,193.5 242.26,194 242,194.2 240.94,193 239.96,191.5 239.45,190.5 239.15,189.5 238.83,189ZM242.33,194.5 242.5,194.27 242.63,194.5 242.5,194.65Z" fill="#82c87a" stroke="#82c87a" stroke-width="0.3" fill-rule="evenodd"/>
<path d="M131.14,35.5 132,35.1 132.5,35.16 133.14,35.5 133.46,36 133.54,37.5 132.98,41 131.1,47.5 130.13,51.5 129.09,58.5 127.75,65.5 126.9,69 125.18,75 120.83,88.5 116.77,102.5 115.16,107 112.69,113 110.04,119 105.6,127.5 100.43,136 98.98,139 96.38,145 94.29,149 93.55,150 92,151.59 91.74,152 88.5,155.14 87.36,156 87,156.47 86.5,156.75 86.31,157 82.5,159.61 80.76,162 80.5,162.87 80.37,162 80.47,161.5 80.79,161 80.76,159.5 81.18,158.5 81.27,157.5 85.37,140.5 87.94,131 89.91,124.5 93,115.02 95.47,108 98.5,100.03 101.5,92.76 105,84.96 119.5,54.79 123,48.16 127,41.13 129.5,37.26 130.5,36.03ZM239.97,191 240,190.8 240.06,191ZM240.36,191.5 240.5,191.36 240.59,191.5 240.5,191.95ZM240.85,192.5 241,192.17 241.18,192.5 241,192.71ZM241.41,193 241.5,192.93 241.5,193.14Z" fill="#8dcb6d" stroke="#8dcb6d" stroke-width="0.3" fill-rule="evenodd"/>
<path d="M130.59,36.5 131.5,36.11 132.5,36.34 132.67,36.5 132.82,37 132.94,38 132.28,42 129.52,52 127.38,64 126.15,69 124.26,75.5 120.65,86.5 116.02,102 114.21,107 109.06,119 104.97,127 99.96,135.5 98.54,138.5 95.56,145.5 94.04,148.5 93.05,150 88.28,155 86.44,156.5 86.06,157 82.48,159.5 80.7,162 80.5,162.77 80.4,162 80.5,161.54 80.81,161 80.79,159.5 81.2,158.5 81.3,157.5 84.42,144.5 87.43,133 89.97,124.5 92.5,116.68 95.5,108.1 98.5,100.21 101.5,92.92 105,85.12 119.5,54.95 123,48.37 126,43.08 129,38.34 130,37.03Z" fill="#9ece5e" stroke="#9ece5e" stroke-width="0.3" fill-rule="evenodd"/>
<path d="M130.38,37.5 131.5,37.32 132,37.71 132.27,38.5 132.1,40.5 131.23,44.5 128.97,52.5 127.11,62 126.21,66 123.67,75 119.71,87 115.16,102 113.33,107 108.41,118.5 104.15,127 99.5,135.11 98.14,138 95.22,145 93.21,149 91.68,151 88.28,154.5 88,154.93 86,156.76 85.5,157.08 85.2,157.5 82.5,159.4 81,161.61 80.72,161.5 80.84,161 80.82,159.5 81.22,158.5 81.33,157.5 85.47,140.5 88,131.2 90.5,123 93,115.38 96,106.92 99,99.12 102,91.93 105,85.27 119.5,55.14 122.5,49.49 126.5,42.56 129,38.81 129.5,38.21ZM80.43,162 80.5,161.68 80.64,162 80.5,162.66Z" fill="#afd250" stroke="#afd250" stroke-width="0.3" fill-rule="evenodd"/>
<path d="M129.57,39 130.5,38.55 131.23,39 131.47,39.5 131.45,41 130.65,45 128.47,53 125.42,66.5 123.42,73.5 118.46,88.5 114.85,100.5 112.7,106.5 107.59,118.5 102.86,128 99,134.88 97.98,137 95.11,144 92.95,148.5 91.96,150 90.77,151.5 87.43,155 87.11,155.5 85.35,157 85,157.48 82.5,159.32 81.04,161.5 80.88,161.5 80.84,159.5 81.24,158.5 81.36,157.5 85.5,140.57 88,131.38 90.5,123.17 93.5,114.1 96,107.09 99,99.29 102,92.09 105,85.43 119.5,55.34 122.5,49.73 126.5,42.94 128.5,40.02ZM80.46,162 80.5,161.82 80.5,162.55 80.49,162.5Z" fill="#c7d843" stroke="#c7d843" stroke-width="0.3" fill-rule="evenodd"/>
<path d="M128.89,40.5 129.5,40.26 130,40.25 130.4,40.5 130.63,42 130.46,43.5 128.96,50 125.03,65.5 122.09,75.5 118.04,87.5 113.57,102 112.09,106 106.79,118.5 102.4,127.5 99.08,133.5 97.86,136 94.35,144.5 92.47,148.5 91.52,150 88.43,153.5 88.14,154 86.28,156 84.5,157.56 84.18,158 82.25,159.5 81,161.47 80.82,160.5 80.87,159.5 81.27,158.5 81.39,157.5 85.5,140.75 88,131.55 90.5,123.35 93,115.74 95.5,108.63 98.5,100.72 101.5,93.42 105,85.59 119,56.54 122,50.87 124.5,46.57 127.5,41.92ZM80.49,162 80.5,161.96 80.5,162.18Z" fill="#dfde36" stroke="#dfde36" stroke-width="0.3" fill-rule="evenodd"/>
<path d="M128.46,42 129.03,42 129.7,43 129.65,44.5 128.99,48 127.08,56 124.75,64.5 122.68,71.5 117,88.5 113.62,99.5 111.31,106 107.58,115 105.57,119.5 101.96,127 97.5,135.5 93.63,145 92.23,148 91.34,149.5 89.05,152.5 86.35,155.5 86.03,156 84.37,157.5 84.01,158 83.5,158.3 82.17,159.5 81,161.36 80.84,160.5 80.9,159.5 81.29,158.5 81.42,157.5 85.5,140.94 88,131.73 90.5,123.53 93,115.92 95.5,108.81 98.5,100.9 101.5,93.59 105,85.75 119.5,55.78 122.5,50.28 125.5,45.39 127.5,42.74Z" fill="#f6e329" stroke="#f6e329" stroke-width="0.3" fill-rule="evenodd"/>
<path d="M126.82,44.5 127.5,44.09 128,44.08 128.5,44.29 128.76,45.5 128.36,48.5 126.62,56.5 122.58,70 116.81,87 112.56,100.5 110.75,105.5 105.3,118.5 100.79,128 97.18,135 93.34,144.5 91.49,148.5 90,150.74 87.34,154 87.06,154.5 84,157.79 83.5,158.13 83.26,158.5 82.1,159.5 81,161.26 80.86,160.5 80.92,159.5 81.31,158.5 81.45,157.5 85.5,141.15 88,131.92 90.5,123.72 93,116.11 95.5,108.99 98.5,101.08 101.5,93.77 104.5,87 118,58.95 120.5,54.12 123,49.78 125.5,45.94Z" fill="#fad12a" stroke="#fad12a" stroke-width="0.3" fill-rule="evenodd"/>
<path d="M126.48,46 127,45.98 127.69,46.5 127.8,48 127.04,53 126,57.5 122.6,68.5 116.46,86 112.02,100 110.23,105 104.6,118.5 100.41,127.5 96.41,135.5 92.87,144.5 91.06,148.5 90.13,150 87.88,153 85.07,156.5 82.02,159.5 81,161.15 80.89,160.5 80.95,159.5 81.21,159 81.48,157.5 86,139.41 88.5,130.4 91,122.35 93.5,114.84 96.5,106.47 99,100.01 101.5,93.95 105,86.1 118.5,58.21 121,53.5 123.5,49.41 125,47.32 126,46.32Z" fill="#f8ba30" stroke="#f8ba30" stroke-width="0.3" fill-rule="evenodd"/>
<path d="M125.68,48 126,47.87 126.32,48 126.76,48.5 126.91,49 126.94,50 126.1,55.5 125.1,59.5 121.85,69.5 115.51,87 110.99,101 109.13,106 104.16,118 99.81,127.5 96.33,134.5 91.12,147.5 89.68,150 86.82,154 84.85,156.5 83.03,158.5 81.95,159.5 81,161.04 80.9,160 80.98,159.5 81.25,159 81.5,157.53 86,139.63 88.5,130.6 91,122.55 93.5,115.04 96,108.02 98.5,101.47 101.5,94.15 105,86.29 117.5,60.45 120.5,54.75 123,50.65 124.5,48.78 125,48.34Z" fill="#f6a431" stroke="#f6a431" stroke-width="0.3" fill-rule="evenodd"/>
<path d="M124.24,50 124.5,49.82 125.5,49.81 125.75,50 126.14,51 126.11,52.5 125.9,54 125.55,56 124.59,60 122.2,67.5 115.52,85.5 110.32,101 108.84,105 103.06,119 99.46,127 96,134.08 91.58,145.5 90.49,148 89.68,149.5 86.61,154 83.84,157.5 81.89,159.5 81,160.92 81,159.53 81.28,159 81.5,157.63 85.5,141.8 88.5,130.81 93,116.72 95.5,109.6 98,102.95 101,95.53 104.5,87.57 116.5,62.75 119.5,56.91 121.5,53.44 123,51.18Z" fill="#f48f33" stroke="#f48f33" stroke-width="0.3" fill-rule="evenodd"/>
<path d="M123.79,51.5 124,51.38 124.5,51.39 125,51.75 125.21,52 125.37,53 125.13,55.5 124.54,58.5 123.5,62.5 121.53,68.5 114.53,87 110.25,99.5 108.22,105 102.89,118 99.14,126.5 96.03,133 95,135.41 91.64,144.5 89.92,148.5 88.44,151 86.4,154 84.91,156 84,157 83.74,157.5 81.82,159.5 81,160.8 81,159.66 81.31,159 81.5,157.73 81.78,157 86,140.09 88.5,131.02 93,116.94 95.5,109.82 98,103.17 101.5,94.55 104.5,87.78 116,64.03 120.5,55.51 122.5,52.58Z" fill="#f37e31" stroke="#f37e31" stroke-width="0.3" fill-rule="evenodd"/>
<path d="M122.45,53.5 123,53.16 124,53.3 124.26,53.5 124.58,54.5 124.52,56 124.16,58 122.63,64 120.12,71.5 114,87.34 108.29,103.5 102.36,118 98.44,127 94.99,134.5 91.32,144.5 89.67,148.5 88.84,150 85.88,154.5 84.79,156 83.89,157 83.64,157.5 82.5,158.62 81.35,160 81,160.67 81,159.8 81.34,159 81.5,157.83 81.81,157 86.5,138.42 88.5,131.25 93,117.17 95.5,110.04 98,103.39 103,91.32 109,78.57 118.5,59.51 121,55.22 121.5,54.49Z" fill="#f2702f" stroke="#f2702f" stroke-width="0.3" fill-rule="evenodd"/>
<path d="M122.18,55 122.5,54.83 123,54.85 123.5,55.28 123.65,55.5 123.72,57 123.54,58.5 123.11,60.5 122.06,64.5 119.5,72.25 113.5,87.75 107.83,103.5 101.92,118 94.5,134.9 91.24,144 89.42,148.5 88.63,150 85.74,154.5 84.67,156 83.78,157 83.54,157.5 82.5,158.52 81.5,159.82 81.26,159.5 81.5,157.93 81.73,157.5 86,140.59 88.5,131.47 93,117.41 97.5,104.92 100.5,97.39 103,91.55 106,85 110,76.8 116.5,63.75 119,59.07 120.5,56.66 121.5,55.5ZM80.99,160 81.12,160 81,160.54 80.99,160.5Z" fill="#f0612c" stroke="#f0612c" stroke-width="0.3" fill-rule="evenodd"/>
<path d="M121.32,57 122,56.76 122.44,57 122.82,58 122.5,61 121.46,65 119,72.56 112.9,88.5 107.82,102.5 101.74,117.5 97.91,126.5 94.97,133 93,138.17 90.25,146 89.19,148.5 87.52,151.5 86.78,152.5 85.59,154.5 83.4,157.5 82.41,158.5 81.5,159.71 81.34,159.5 81.5,158.06 81.79,157.5 86.5,138.95 88.5,131.73 93,117.66 95.5,110.52 98,103.88 101,96.43 104,89.57 110,77.09 118,61.37 120,58.21 121,57.13Z" fill="#ee502b" stroke="#ee502b" stroke-width="0.3" fill-rule="evenodd"/>
<path d="M119.89,59.5 120.5,59.05 121.5,59.09 121.8,60 121.65,62 120.69,66 118,74.15 113.33,86.5 107.66,102 101.18,118 94,134.81 90.59,144.5 89.21,148 88,150.29 85.42,154.5 84,156.5 81.5,159.61 81.5,158.25 81.84,157.5 82,156.54 83.83,150 86.5,139.27 88.5,132 93,117.93 97.5,105.44 101.5,95.53 106.5,84.52 112.5,72.44 117,63.74 118.5,61.19Z" fill="#ec3f2a" stroke="#ec3f2a" stroke-width="0.3" fill-rule="evenodd"/>
<path d="M119.44,61.5 120,61.41 120.5,61.57 120.71,63 120.49,64.5 119.56,68 117.42,74.5 107.54,101.5 100.67,118.5 93.88,134.5 90.01,145.5 89,148 87.34,151 84.89,155 81.5,159.49 81.5,158.45 81.77,158 82,156.75 82.3,156 84.32,148.5 87,137.72 89,130.64 93.5,116.77 98,104.44 102.5,93.52 105,88 108.5,80.79 114.5,68.99 116.5,65.3 118,62.92 119,61.8Z" fill="#e9332a" stroke="#e9332a" stroke-width="0.3" fill-rule="evenodd"/>
<path d="M117.98,64.5 118.5,64.22 119,64.53 119.34,65 119.24,66.5 118.41,70 116.76,75 107,102.09 100.5,118.23 94.44,132.5 89,147.34 87.98,149.5 84.7,155 82.83,157.5 82.58,158 82,158.64 81.79,158.5 82,156.97 82.26,156.5 82.5,155.29 84.29,149 86.5,140 88.5,132.67 92.5,120.05 97,107.37 102,95.01 107,84.2 114.5,69.63 117,65.53Z" fill="#e42a2b" stroke="#e42a2b" stroke-width="0.3" fill-rule="evenodd"/>
<path d="M116.52,68 117,67.75 117.5,68.13 117.71,68.5 117.75,69 117.51,70.5 116.56,74 106.5,102.44 100.5,117.51 93.56,134 90,144.04 88.64,147.5 87.4,150 84.52,155 83.72,156 83.52,156.5 82.62,157.5 82.5,157.81 82,158.05 82.01,157.5 82.39,156.5 82.5,155.7 82.79,155 84.15,150 87,138.51 89,131.34 93,118.93 97.5,106.42 102,95.38 107,84.64 112.5,73.97 115,69.81 116,68.46Z" fill="#dd242b" stroke="#dd242b" stroke-width="0.3" fill-rule="evenodd"/>
<path d="M114.99,72 115.5,71.83 115.67,72 115.92,73 115.19,76 113.5,81.24 106,102.7 100,117.86 93.26,134 89.71,144 88,148.27 87.12,150 84,155.27 83,156.61 82.67,156.5 83,154.56 84.32,150 87,139.01 89,131.76 93,119.34 97.5,106.83 102,95.82 106.5,86.11 111,77.54 113.5,73.49 114,72.86ZM82.5,157 82.5,156.96 82.51,157Z" fill="#d22229" stroke="#d22229" stroke-width="0.3" fill-rule="evenodd"/>
<path d="M112.64,77 113,76.73 113.42,77 113.5,77.39 113.53,78.5 113.16,80 110.5,88.5 106,101.55 100,116.93 93.13,133.5 88.5,146.32 87,149.53 85.22,152.5 85,153.05 84.2,154 84,154.53 83.66,154.5 83.57,154 84,151.89 84.8,149 87,139.6 89,132.26 93,119.82 97,108.59 101.5,97.45 105.5,88.69 108,83.83 110.5,79.55 111.5,78.13Z" fill="#c21f25" stroke="#c21f25" stroke-width="0.3" fill-rule="evenodd"/>
<path d="M110.49,82 111,81.93 111.14,82.5 111.18,83.5 110.86,85 108.96,91.5 105.5,101.64 100.35,115 92.78,133.5 88.5,145.38 86.5,149.56 85.68,150.5 85.5,150.93 85,150.9 85.04,149.5 86,144.59 88.5,134.59 92,123.35 96.5,110.45 101,99.17 105,90.39 107,86.62 108.5,84.19 109.5,82.85Z" fill="#b11d21" stroke="#b11d21" stroke-width="0.3" fill-rule="evenodd"/>
<path d="M108.49,87 108.84,87.5 108.95,88 108.61,90 106.5,97.28 105,101.68 99.52,116 92.79,132.5 88.52,144 87.5,146.17 87,146.84 86.5,147.09 86.37,146 86.5,144.31 87.5,139.43 89,133.54 92,123.96 96,112.41 99.5,103.41 103,95.41 104.5,92.44 106.5,88.92 107.5,87.61 108,87.15Z" fill="#a11a1e" stroke="#a11a1e" stroke-width="0.3" fill-rule="evenodd"/>
<path d="M105.57,93 106,92.83 106.38,93.5 106.39,94.5 106.1,96 104.92,100 103,105.51 99.5,114.82 95.5,124.87 92.1,133 89.5,139.77 89,140.86 88.5,141.56 88,141.8 88,140.04 88.5,137.2 89.5,133.08 91.5,126.43 95.5,114.6 98.5,106.73 101.5,99.8 104,94.97 105,93.57Z" fill="#91181b" stroke="#91181b" stroke-width="0.3" fill-rule="evenodd"/>
<path d="M102.99,100 103.23,100.5 103.29,101 103,102.85 102,106.07 100,111.7 94,126.86 92.5,130.32 91,132.77 90.8,132.5 90.78,132 91,130.51 91.5,128.47 94,120.51 96.5,113.36 98,109.48 100,104.91 102,101.21 102.5,100.45Z" fill="#821619" stroke="#821619" stroke-width="0.3" fill-rule="evenodd"/>
</g>
<path d="M42.0,26.0 H272.0 V232.0 H42.0 Z M132.19,29.4 L131.45,30.68 L130.72,31.96 L129.99,33.24 L129.27,34.53 L128.55,35.81 L127.83,37.1 L127.12,38.39 L126.41,39.69 L125.71,40.98 L125.01,42.28 L124.32,43.59 L123.63,44.89 L122.95,46.2 L122.28,47.51 L121.61,48.83 L120.95,50.14 L120.29,51.47 L119.64,52.79 L119,54.12 L118.36,55.45 L117.72,56.78 L117.09,58.11 L116.47,59.45 L115.85,60.78 L115.22,62.12 L114.6,63.46 L113.98,64.8 L113.36,66.13 L112.74,67.47 L112.11,68.81 L111.49,70.14 L110.86,71.48 L110.23,72.81 L109.59,74.14 L108.96,75.47 L108.32,76.8 L107.69,78.14 L107.06,79.47 L106.43,80.8 L105.8,82.14 L105.17,83.47 L104.55,84.81 L103.94,86.15 L103.33,87.49 L102.73,88.84 L102.13,90.19 L101.55,91.54 L100.97,92.9 L100.4,94.26 L99.83,95.62 L99.27,96.99 L98.72,98.36 L98.18,99.73 L97.65,101.1 L97.12,102.48 L96.6,103.86 L96.08,105.24 L95.57,106.63 L95.07,108.01 L94.57,109.4 L94.08,110.79 L93.59,112.18 L93.11,113.58 L92.64,114.97 L92.17,116.37 L91.7,117.77 L91.25,119.17 L90.79,120.58 L90.35,121.98 L89.91,123.39 L89.47,124.8 L89.04,126.21 L88.62,127.62 L88.2,129.04 L87.79,130.46 L87.38,131.87 L86.98,133.29 L86.59,134.71 L86.2,136.14 L85.82,137.56 L85.45,138.99 L85.08,140.42 L84.72,141.85 L84.36,143.28 L84.01,144.71 L83.67,146.15 L83.33,147.58 L83,149.02 L82.68,150.46 L82.36,151.9 L82.05,153.34 L81.75,154.78 L81.45,156.23 L81.16,157.67 L80.87,159.12 L80.59,160.57 L80.31,162.02 L80.04,163.47 L79.78,164.92 L79.54,166.37 L79.32,167.83 L79.11,169.29 L78.91,170.75 L78.71,172.22 L78.51,173.68 L78.3,175.14 L78.07,176.59 L77.82,178.05 L77.58,179.52 L77.32,180.99 L77.03,182.44 L76.69,183.86 L76.29,185.25 L75.74,186.61 L75.07,187.94 L74.32,189.24 L73.54,190.49 L72.73,191.71 L71.85,192.91 L70.91,194.07 L69.92,195.17 L68.89,196.19 L67.79,197.16 L66.63,198.09 L65.42,198.96 L64.18,199.79 L62.94,200.56 L61.67,201.32 L60.36,202.05 L59.04,202.73 L57.68,203.32 L56.31,203.79 L54.93,204.21 L53.52,204.6 L52.1,204.96 L50.65,205.29 L49.19,205.56 L47.71,205.76 L46.2,205.9 L48.3,229.8 L264.6,229.8 L267.7,206.8 L266.21,206.56 L264.73,206.27 L263.27,205.94 L261.83,205.57 L260.4,205.16 L258.99,204.72 L257.59,204.25 L256.2,203.77 L254.82,203.25 L253.45,202.65 L252.1,201.99 L250.79,201.28 L249.51,200.53 L248.27,199.73 L247.05,198.86 L245.86,197.93 L244.74,196.94 L243.71,195.9 L242.74,194.8 L241.83,193.61 L240.97,192.37 L240.19,191.09 L239.48,189.8 L238.83,188.47 L238.22,187.1 L237.67,185.71 L237.19,184.3 L236.78,182.89 L236.42,181.45 L236.09,179.99 L235.79,178.53 L235.51,177.07 L235.26,175.61 L235.02,174.14 L234.81,172.67 L234.6,171.2 L234.4,169.72 L234.2,168.25 L234.01,166.77 L233.81,165.3 L233.62,163.82 L233.45,162.35 L233.27,160.87 L233.08,159.4 L232.86,157.93 L232.6,156.47 L232.27,155.02 L231.94,153.57 L231.61,152.12 L231.28,150.67 L230.95,149.22 L230.61,147.77 L230.27,146.33 L229.93,144.88 L229.58,143.44 L229.22,141.99 L228.87,140.55 L228.5,139.11 L228.14,137.67 L227.77,136.23 L227.39,134.79 L227.01,133.36 L226.63,131.92 L226.24,130.49 L225.84,129.05 L225.44,127.62 L225.04,126.19 L224.63,124.76 L224.22,123.34 L223.8,121.91 L223.37,120.49 L222.94,119.06 L222.51,117.64 L222.07,116.22 L221.62,114.81 L221.17,113.39 L220.71,111.98 L220.25,110.56 L219.78,109.15 L219.31,107.74 L218.83,106.34 L218.34,104.93 L217.85,103.53 L217.35,102.13 L216.85,100.73 L216.34,99.34 L215.83,97.94 L215.31,96.55 L214.78,95.16 L214.25,93.77 L213.71,92.39 L213.16,91 L212.61,89.62 L212.06,88.25 L211.49,86.87 L210.92,85.5 L210.35,84.13 L209.77,82.76 L209.18,81.4 L208.58,80.03 L207.98,78.67 L207.38,77.32 L206.76,75.96 L206.14,74.61 L205.52,73.26 L204.89,71.92 L204.25,70.58 L203.6,69.24 L202.95,67.9 L202.29,66.57 L201.63,65.24 L200.96,63.91 L200.29,62.59 L199.6,61.27 L198.91,59.95 L198.22,58.64 L197.52,57.33 L196.81,56.02 L196.1,54.72 L195.38,53.42 L194.65,52.12 L193.92,50.83 L193.18,49.54 L192.44,48.25 L191.69,46.97 L190.93,45.69 L190.17,44.41 L189.4,43.14 L188.62,41.87 L187.84,40.61 L187.05,39.35 L186.26,38.09 L185.46,36.84 L184.66,35.59 L183.85,34.34 L183.03,33.1 L182.21,31.86 L181.38,30.63 L180.55,29.4Z" fill="#fff" fill-rule="evenodd"/>
<path d="M29.7,29.1 V229.3 H48.9 M264.4,229.3 H284.0" fill="none" stroke="#262626" stroke-width="0.9"/>
<path d="M29.7,42 h2.9" stroke="#262626" stroke-width="0.8"/>
<text x="25.2" y="45.6" text-anchor="end" font-size="10.5" font-weight="normal" fill="#262626" >35</text>
<path d="M29.7,64.5 h2.9" stroke="#262626" stroke-width="0.8"/>
<text x="25.2" y="68.1" text-anchor="end" font-size="10.5" font-weight="normal" fill="#262626" >30</text>
<path d="M29.7,87 h2.9" stroke="#262626" stroke-width="0.8"/>
<text x="25.2" y="90.6" text-anchor="end" font-size="10.5" font-weight="normal" fill="#262626" >25</text>
<path d="M29.7,109.5 h2.9" stroke="#262626" stroke-width="0.8"/>
<text x="25.2" y="113.1" text-anchor="end" font-size="10.5" font-weight="normal" fill="#262626" >20</text>
<path d="M29.7,132 h2.9" stroke="#262626" stroke-width="0.8"/>
<text x="25.2" y="135.6" text-anchor="end" font-size="10.5" font-weight="normal" fill="#262626" >15</text>
<path d="M29.7,154.5 h2.9" stroke="#262626" stroke-width="0.8"/>
<text x="25.2" y="158.1" text-anchor="end" font-size="10.5" font-weight="normal" fill="#262626" >10</text>
<path d="M29.7,177 h2.9" stroke="#262626" stroke-width="0.8"/>
<text x="25.2" y="180.6" text-anchor="end" font-size="10.5" font-weight="normal" fill="#262626" >5</text>
<path d="M29.7,199.5 h2.9" stroke="#262626" stroke-width="0.8"/>
<text x="25.2" y="203.1" text-anchor="end" font-size="10.5" font-weight="normal" fill="#262626" >0</text>
<path d="M29.7,222 h2.9" stroke="#262626" stroke-width="0.8"/>
<text x="25.2" y="225.6" text-anchor="end" font-size="10.5" font-weight="normal" fill="#262626" >-5</text>
<text x="66.7" y="241.6" text-anchor="middle" font-size="10.5" font-weight="normal" fill="#262626" >-20</text>
<text x="111.7" y="241.6" text-anchor="middle" font-size="10.5" font-weight="normal" fill="#262626" >-10</text>
<text x="156.7" y="241.6" text-anchor="middle" font-size="10.5" font-weight="normal" fill="#262626" >0</text>
<text x="201.7" y="241.6" text-anchor="middle" font-size="10.5" font-weight="normal" fill="#262626" >10</text>
<text x="246.7" y="241.6" text-anchor="middle" font-size="10.5" font-weight="normal" fill="#262626" >20</text>
<text x="157" y="253.2" text-anchor="middle" font-size="10.5" font-weight="normal" fill="#262626" >Tooth width [mm]</text>
<text x="0" y="0" text-anchor="middle" font-size="10.5" font-weight="normal" fill="#262626" transform="translate(9.6,129.3) rotate(-90)">Tooth height [mm]</text>
<text x="2.9" y="12.1" text-anchor="start" font-size="14.5" font-weight="bold" fill="#111" >a</text>
<path d="M93.1,113.3 L152.5,134.25" stroke="#1a1a1a" stroke-width="0.9" fill="none"/>
<circle cx="97.2" cy="112.8" r="2.3" fill="#7a1216" fill-opacity="0.45" stroke="#5e0c12" stroke-width="0.9"/>
<rect x="176.3" y="36.4" width="101.5" height="37.6" fill="#fff" fill-opacity="0.67" stroke="#444" stroke-width="0.7"/>
<path d="M176.3,49.3 H277.8" stroke="#444" stroke-width="0.7"/>
<text x="180.4" y="46.1" text-anchor="start" font-size="10.5" font-weight="bold" fill="#111" >MRH shear stress</text>
<path d="M178.9,56.7 H204.3" stroke="#1a1a1a" stroke-width="0.8"/>
<text x="207.4" y="60.1" text-anchor="start" font-size="10.5" font-weight="normal" fill="#262626" >Path P1</text>
<circle cx="191.5" cy="67.8" r="2.6" fill="none" stroke="#e23a44" stroke-width="0.8"/>
<text x="207.4" y="70.5" text-anchor="start" font-size="10.5" font-weight="normal" fill="#262626" >Max. 350 MPa</text>
<defs><linearGradient id="cb" x1="0" y1="0" x2="0" y2="1"><stop offset="0%" stop-color="#7b1518"/><stop offset="2.86%" stop-color="#90181b"/><stop offset="7.14%" stop-color="#b21d21"/><stop offset="11.43%" stop-color="#d6222a"/><stop offset="14.29%" stop-color="#e3262b"/><stop offset="18.57%" stop-color="#ec3b2a"/><stop offset="22.86%" stop-color="#f0602c"/><stop offset="28.57%" stop-color="#f48a33"/><stop offset="32.86%" stop-color="#f8b830"/><stop offset="36.57%" stop-color="#fbe426"/><stop offset="40%" stop-color="#d3dc3c"/><stop offset="42.86%" stop-color="#b0d24f"/><stop offset="47.14%" stop-color="#8ccb6e"/><stop offset="51.43%" stop-color="#74c589"/><stop offset="57.14%" stop-color="#66c2a0"/><stop offset="61.43%" stop-color="#5ec2b4"/><stop offset="65.71%" stop-color="#4dbfd0"/><stop offset="68.57%" stop-color="#2db3e3"/><stop offset="71.43%" stop-color="#2b96d4"/><stop offset="74.29%" stop-color="#2b7fc6"/><stop offset="78.57%" stop-color="#2a68b8"/><stop offset="85.71%" stop-color="#254ea7"/><stop offset="92.86%" stop-color="#27419c"/><stop offset="100%" stop-color="#2a3591"/></linearGradient></defs>
<rect x="290.6" y="28.8" width="14.2" height="200.5" fill="url(#cb)"/>
<text x="309" y="33" text-anchor="start" font-size="10.5" font-weight="normal" fill="#262626" >350</text>
<path d="M304.8,57.85 h-1.8" stroke="#262626" stroke-width="0.7"/>
<text x="309" y="61.55" text-anchor="start" font-size="10.5" font-weight="normal" fill="#262626" >300</text>
<path d="M304.8,86.4 h-1.8" stroke="#262626" stroke-width="0.7"/>
<text x="309" y="90.1" text-anchor="start" font-size="10.5" font-weight="normal" fill="#262626" >250</text>
<path d="M304.8,114.95 h-1.8" stroke="#262626" stroke-width="0.7"/>
<text x="309" y="118.65" text-anchor="start" font-size="10.5" font-weight="normal" fill="#262626" >200</text>
<path d="M304.8,143.5 h-1.8" stroke="#262626" stroke-width="0.7"/>
<text x="309" y="147.2" text-anchor="start" font-size="10.5" font-weight="normal" fill="#262626" >150</text>
<path d="M304.8,172.05 h-1.8" stroke="#262626" stroke-width="0.7"/>
<text x="309" y="175.75" text-anchor="start" font-size="10.5" font-weight="normal" fill="#262626" >100</text>
<path d="M304.8,200.6 h-1.8" stroke="#262626" stroke-width="0.7"/>
<text x="309" y="204.3" text-anchor="start" font-size="10.5" font-weight="normal" fill="#262626" >50</text>
<g transform="translate(337.9,166.6) rotate(-90)"><path d="M0,-3.2 Q0.3,-4.15 1.3,-4.15 H5.1 M2.75,-4.15 L1.85,-1.0 Q1.6,0.1 2.8,-0.15" fill="none" stroke="#303030" stroke-width="0.8" stroke-linecap="round" stroke-linejoin="round"/><text x="4.9" y="0" font-size="10.5" fill="#262626"><tspan font-size="8.4" dy="3.6">MRH,max</tspan><tspan dy="-3.6"> [MPa]</tspan></text></g>
</svg>
</body></html>
